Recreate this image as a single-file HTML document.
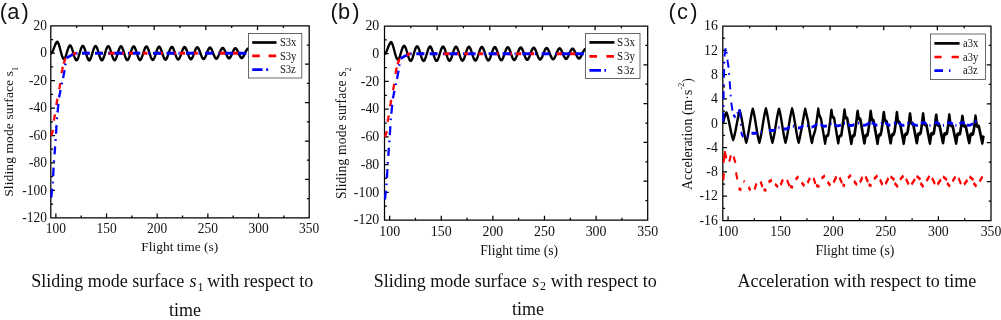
<!DOCTYPE html>
<html><head><meta charset="utf-8"><title>figure</title>
<style>
html,body{margin:0;padding:0;background:#fff;}
body{width:1001px;height:320px;overflow:hidden;font-family:"Liberation Serif",serif;}
svg{display:block;}
</style></head><body>
<svg width="1001" height="320" viewBox="0 0 1001 320">
<rect width="1001" height="320" fill="#fff"/>
<g style="filter:blur(0.3px)">
<path d="M50.8 25.8 H309.2 V217.8 H50.8 Z M55.87 217.8 v-4.2 M106.53 217.8 v-4.2 M157.2 217.8 v-4.2 M207.87 217.8 v-4.2 M258.53 217.8 v-4.2 M309.2 217.8 v-4.2 M81.2 217.8 v-2.3 M131.87 217.8 v-2.3 M182.53 217.8 v-2.3 M233.2 217.8 v-2.3 M283.87 217.8 v-2.3 M50.8 217.8 h4.2 M50.8 190.37 h4.2 M50.8 162.94 h4.2 M50.8 135.51 h4.2 M50.8 108.09 h4.2 M50.8 80.66 h4.2 M50.8 53.23 h4.2 M50.8 25.8 h4.2 M50.8 204.09 h2.3 M50.8 176.66 h2.3 M50.8 149.23 h2.3 M50.8 121.8 h2.3 M50.8 94.37 h2.3 M50.8 66.94 h2.3 M50.8 39.51 h2.3 M76.64 25.8 v2.3 M309.2 45 h-2.3 M102.48 25.8 v4.2 M309.2 64.2 h-4.2 M128.32 25.8 v2.3 M309.2 83.4 h-2.3 M154.16 25.8 v4.2 M309.2 102.6 h-4.2 M180 25.8 v2.3 M309.2 121.8 h-2.3 M205.84 25.8 v4.2 M309.2 141 h-4.2 M231.68 25.8 v2.3 M309.2 160.2 h-2.3 M257.52 25.8 v4.2 M309.2 179.4 h-4.2 M283.36 25.8 v2.3 M309.2 198.6 h-2.3" fill="none" stroke="#000" stroke-width="1.25"/>
<g font-family='"Liberation Serif", serif' font-size="13.45" fill="#111"><text transform="translate(55.87 232.9) scale(1 1.15)" text-anchor="middle">100</text><text transform="translate(106.53 232.9) scale(1 1.15)" text-anchor="middle">150</text><text transform="translate(157.2 232.9) scale(1 1.15)" text-anchor="middle">200</text><text transform="translate(207.87 232.9) scale(1 1.15)" text-anchor="middle">250</text><text transform="translate(258.53 232.9) scale(1 1.15)" text-anchor="middle">300</text><text transform="translate(309.2 232.9) scale(1 1.15)" text-anchor="middle">350</text><text transform="translate(46.9 222.05) scale(1 1.15)" text-anchor="end">-120</text><text transform="translate(46.9 194.62) scale(1 1.15)" text-anchor="end">-100</text><text transform="translate(46.9 167.19) scale(1 1.15)" text-anchor="end">-80</text><text transform="translate(46.9 139.76) scale(1 1.15)" text-anchor="end">-60</text><text transform="translate(46.9 112.34) scale(1 1.15)" text-anchor="end">-40</text><text transform="translate(46.9 84.91) scale(1 1.15)" text-anchor="end">-20</text><text transform="translate(46.9 57.48) scale(1 1.15)" text-anchor="end">0</text><text transform="translate(46.9 30.05) scale(1 1.15)" text-anchor="end">20</text></g>
<path transform="scale(0.8 1)" d="M63.5 53.23 L63.82 53.19 L64.13 53.07 L64.45 52.86 L64.77 52.58 L65.08 52.23 L65.4 51.81 L65.72 51.33 L66.03 50.8 L66.35 50.22 L66.67 49.6 L66.98 48.95 L67.3 48.28 L67.62 47.61 L67.93 46.93 L68.25 46.26 L68.57 45.61 L68.88 44.99 L69.2 44.41 L69.52 43.88 L69.83 43.4 L70.15 42.98 L70.47 42.63 L70.78 42.35 L71.1 42.15 L71.42 42.02 L71.73 41.91 L72.05 42.14 L72.37 42.47 L72.68 42.91 L73 43.43 L73.32 44.05 L73.63 44.75 L73.95 45.53 L74.27 46.37 L74.58 47.27 L74.9 48.21 L75.22 49.18 L75.53 50.16 L75.85 51.15 L76.17 52.13 L76.48 53.08 L76.8 54 L77.12 54.87 L77.43 55.67 L77.75 56.4 L78.07 57.05 L78.38 57.61 L78.7 58.07 L79.02 58.42 L79.33 58.66 L79.65 58.79 L79.97 58.81 L80.28 58.71 L80.6 58.51 L80.92 58.2 L81.23 57.79 L81.55 57.28 L81.87 56.7 L82.18 56.04 L82.5 55.31 L82.82 54.54 L83.13 53.73 L83.45 52.89 L83.77 52.05 L84.08 51.2 L84.4 50.38 L84.72 49.58 L85.03 48.83 L85.35 48.14 L85.67 47.51 L85.98 46.96 L86.3 46.49 L86.62 46.12 L86.93 45.86 L87.25 45.69 L87.57 45.64 L87.88 45.69 L88.2 45.86 L88.52 46.13 L88.83 46.5 L89.15 46.97 L89.47 47.53 L89.78 48.18 L90.1 48.89 L90.42 49.67 L90.73 50.5 L91.05 51.36 L91.37 52.25 L91.68 53.14 L92 54.03 L92.32 54.91 L92.63 55.75 L92.95 56.55 L93.27 57.29 L93.58 57.97 L93.9 58.56 L94.22 59.07 L94.53 59.49 L94.85 59.8 L95.17 60 L95.48 60.1 L95.8 60.09 L96.12 59.96 L96.43 59.73 L96.75 59.39 L97.07 58.95 L97.38 58.42 L97.7 57.81 L98.02 57.12 L98.33 56.37 L98.65 55.57 L98.97 54.73 L99.28 53.87 L99.6 52.99 L99.92 52.11 L100.23 51.25 L100.55 50.42 L100.87 49.63 L101.18 48.9 L101.5 48.24 L101.82 47.65 L102.13 47.14 L102.45 46.74 L102.77 46.43 L103.08 46.22 L103.4 46.13 L103.72 46.15 L104.03 46.27 L104.35 46.5 L104.67 46.84 L104.98 47.28 L105.3 47.8 L105.62 48.42 L105.93 49.1 L106.25 49.85 L106.57 50.65 L106.88 51.49 L107.2 52.36 L107.52 53.23 L107.83 54.11 L108.15 54.97 L108.47 55.81 L108.78 56.6 L109.1 57.34 L109.42 58.01 L109.73 58.61 L110.05 59.12 L110.37 59.54 L110.68 59.86 L111 60.08 L111.32 60.18 L111.63 60.18 L111.95 60.07 L112.27 59.85 L112.58 59.53 L112.9 59.11 L113.22 58.6 L113.53 58 L113.85 57.33 L114.17 56.6 L114.48 55.81 L114.8 54.98 L115.12 54.13 L115.43 53.26 L115.75 52.39 L116.07 51.53 L116.38 50.7 L116.7 49.92 L117.02 49.18 L117.33 48.5 L117.65 47.91 L117.97 47.39 L118.28 46.96 L118.6 46.64 L118.92 46.41 L119.23 46.3 L119.55 46.29 L119.87 46.39 L120.18 46.6 L120.5 46.91 L120.82 47.31 L121.13 47.82 L121.45 48.4 L121.77 49.06 L122.08 49.79 L122.4 50.56 L122.72 51.38 L123.03 52.23 L123.35 53.09 L123.67 53.96 L123.98 54.81 L124.3 55.64 L124.62 56.43 L124.93 57.16 L125.25 57.84 L125.57 58.44 L125.88 58.97 L126.2 59.4 L126.52 59.73 L126.83 59.96 L127.15 60.09 L127.47 60.11 L127.78 60.02 L128.1 59.83 L128.42 59.53 L128.73 59.14 L129.05 58.65 L129.37 58.08 L129.68 57.43 L130 56.71 L130.32 55.95 L130.63 55.14 L130.95 54.3 L131.27 53.44 L131.58 52.58 L131.9 51.74 L132.22 50.91 L132.53 50.12 L132.85 49.39 L133.17 48.71 L133.48 48.1 L133.8 47.58 L134.12 47.14 L134.43 46.8 L134.75 46.56 L135.07 46.42 L135.38 46.39 L135.7 46.47 L136.02 46.65 L136.33 46.93 L136.65 47.32 L136.97 47.79 L137.28 48.35 L137.6 48.99 L137.92 49.69 L138.23 50.45 L138.55 51.25 L138.87 52.08 L139.18 52.93 L139.5 53.78 L139.82 54.63 L140.13 55.45 L140.45 56.23 L140.77 56.97 L141.08 57.65 L141.4 58.26 L141.72 58.79 L142.03 59.23 L142.35 59.58 L142.67 59.83 L142.98 59.98 L143.3 60.02 L143.62 59.95 L143.93 59.78 L144.25 59.51 L144.57 59.14 L144.88 58.67 L145.2 58.13 L145.52 57.5 L145.83 56.81 L146.15 56.06 L146.47 55.27 L146.78 54.45 L147.1 53.61 L147.42 52.76 L147.73 51.92 L148.05 51.11 L148.37 50.32 L148.68 49.58 L149 48.9 L149.32 48.29 L149.63 47.76 L149.95 47.31 L150.27 46.95 L150.58 46.69 L150.9 46.54 L151.22 46.49 L151.53 46.54 L151.85 46.7 L152.17 46.96 L152.48 47.32 L152.8 47.77 L153.12 48.31 L153.43 48.92 L153.75 49.6 L154.07 50.34 L154.38 51.12 L154.7 51.93 L155.02 52.77 L155.33 53.61 L155.65 54.44 L155.97 55.25 L156.28 56.04 L156.6 56.77 L156.92 57.46 L157.23 58.07 L157.55 58.61 L157.87 59.07 L158.18 59.43 L158.5 59.69 L158.82 59.86 L159.13 59.92 L159.45 59.88 L159.77 59.73 L160.08 59.48 L160.4 59.13 L160.72 58.69 L161.03 58.17 L161.35 57.57 L161.67 56.9 L161.98 56.17 L162.3 55.4 L162.62 54.6 L162.93 53.77 L163.25 52.94 L163.57 52.11 L163.88 51.3 L164.2 50.52 L164.52 49.78 L164.83 49.1 L165.15 48.48 L165.47 47.94 L165.78 47.48 L166.1 47.11 L166.42 46.83 L166.73 46.66 L167.05 46.59 L167.37 46.62 L167.68 46.76 L168 47 L168.32 47.33 L168.63 47.76 L168.95 48.27 L169.27 48.86 L169.58 49.52 L169.9 50.23 L170.22 50.99 L170.53 51.79 L170.85 52.61 L171.17 53.44 L171.48 54.26 L171.8 55.07 L172.12 55.84 L172.43 56.58 L172.75 57.26 L173.07 57.88 L173.38 58.43 L173.7 58.9 L174.02 59.27 L174.33 59.55 L174.65 59.74 L174.97 59.82 L175.28 59.79 L175.6 59.67 L175.92 59.44 L176.23 59.12 L176.55 58.7 L176.87 58.2 L177.18 57.63 L177.5 56.98 L177.82 56.28 L178.13 55.52 L178.45 54.74 L178.77 53.93 L179.08 53.11 L179.4 52.29 L179.72 51.48 L180.03 50.71 L180.35 49.97 L180.67 49.29 L180.98 48.67 L181.3 48.12 L181.62 47.65 L181.93 47.26 L182.25 46.97 L182.57 46.78 L182.88 46.69 L183.2 46.71 L183.52 46.82 L183.83 47.03 L184.15 47.35 L184.47 47.75 L184.78 48.24 L185.1 48.8 L185.42 49.44 L185.73 50.13 L186.05 50.87 L186.37 51.65 L186.68 52.46 L187 53.27 L187.32 54.08 L187.63 54.88 L187.95 55.65 L188.27 56.39 L188.58 57.07 L188.9 57.69 L189.22 58.24 L189.53 58.71 L189.85 59.1 L190.17 59.39 L190.48 59.59 L190.8 59.69 L191.12 59.68 L191.43 59.58 L191.75 59.37 L192.07 59.07 L192.38 58.68 L192.7 58.21 L193.02 57.65 L193.33 57.03 L193.65 56.35 L193.97 55.62 L194.28 54.86 L194.6 54.07 L194.92 53.27 L195.23 52.47 L195.55 51.68 L195.87 50.92 L196.18 50.19 L196.5 49.51 L196.82 48.9 L197.13 48.35 L197.45 47.87 L197.77 47.49 L198.08 47.19 L198.4 46.99 L198.72 46.88 L199.03 46.87 L199.35 46.97 L199.67 47.16 L199.98 47.45 L200.3 47.82 L200.62 48.28 L200.93 48.82 L201.25 49.42 L201.57 50.09 L201.88 50.8 L202.2 51.55 L202.52 52.32 L202.83 53.11 L203.15 53.9 L203.47 54.68 L203.78 55.43 L204.1 56.15 L204.42 56.82 L204.73 57.43 L205.05 57.98 L205.37 58.45 L205.68 58.84 L206 59.14 L206.32 59.35 L206.63 59.47 L206.95 59.48 L207.27 59.4 L207.58 59.22 L207.9 58.95 L208.22 58.59 L208.53 58.14 L208.85 57.62 L209.17 57.03 L209.48 56.39 L209.8 55.69 L210.12 54.96 L210.43 54.2 L210.75 53.42 L211.07 52.65 L211.38 51.88 L211.7 51.14 L212.02 50.43 L212.33 49.76 L212.65 49.15 L212.97 48.61 L213.28 48.14 L213.6 47.74 L213.92 47.44 L214.23 47.22 L214.55 47.1 L214.87 47.08 L215.18 47.15 L215.5 47.31 L215.82 47.57 L216.13 47.92 L216.45 48.35 L216.77 48.85 L217.08 49.43 L217.4 50.06 L217.72 50.74 L218.03 51.46 L218.35 52.2 L218.67 52.96 L218.98 53.72 L219.3 54.48 L219.62 55.21 L219.93 55.91 L220.25 56.57 L220.57 57.18 L220.88 57.72 L221.2 58.19 L221.52 58.59 L221.83 58.9 L222.15 59.12 L222.47 59.24 L222.78 59.28 L223.1 59.22 L223.42 59.06 L223.73 58.82 L224.05 58.48 L224.37 58.07 L224.68 57.58 L225 57.02 L225.32 56.41 L225.63 55.74 L225.95 55.04 L226.27 54.31 L226.58 53.57 L226.9 52.82 L227.22 52.07 L227.53 51.35 L227.85 50.66 L228.17 50 L228.48 49.4 L228.8 48.86 L229.12 48.39 L229.43 48 L229.75 47.69 L230.07 47.46 L230.38 47.33 L230.7 47.28 L231.02 47.33 L231.33 47.48 L231.65 47.71 L231.97 48.03 L232.28 48.43 L232.6 48.9 L232.92 49.44 L233.23 50.04 L233.55 50.69 L233.87 51.38 L234.18 52.09 L234.5 52.82 L234.82 53.56 L235.13 54.29 L235.45 55 L235.77 55.69 L236.08 56.33 L236.4 56.93 L236.72 57.47 L237.03 57.94 L237.35 58.33 L237.67 58.65 L237.98 58.88 L238.3 59.02 L238.62 59.07 L238.93 59.03 L239.25 58.9 L239.57 58.68 L239.88 58.37 L240.2 57.99 L240.52 57.53 L240.83 57 L241.15 56.42 L241.47 55.79 L241.78 55.12 L242.1 54.42 L242.42 53.7 L242.73 52.98 L243.05 52.26 L243.37 51.55 L243.68 50.88 L244 50.24 L244.32 49.65 L244.63 49.12 L244.95 48.65 L245.27 48.25 L245.58 47.93 L245.9 47.7 L246.22 47.55 L246.53 47.49 L246.85 47.52 L247.17 47.65 L247.48 47.85 L247.8 48.14 L248.12 48.51 L248.43 48.96 L248.75 49.47 L249.07 50.03 L249.38 50.65 L249.7 51.31 L250.02 51.99 L250.33 52.7 L250.65 53.41 L250.97 54.11 L251.28 54.8 L251.6 55.47 L251.92 56.09 L252.23 56.68 L252.55 57.2 L252.87 57.67 L253.18 58.06 L253.5 58.37 L253.82 58.61 L254.13 58.76 L254.45 58.82 L254.77 58.8 L255.08 58.69 L255.4 58.49 L255.72 58.21 L256.03 57.86 L256.35 57.43 L256.67 56.94 L256.98 56.39 L257.3 55.8 L257.62 55.16 L257.93 54.5 L258.25 53.81 L258.57 53.13 L258.88 52.44 L259.2 51.77 L259.52 51.12 L259.83 50.5 L260.15 49.93 L260.47 49.42 L260.78 48.96 L261.1 48.57 L261.42 48.26 L261.73 48.02 L262.05 47.87 L262.37 47.8 L262.68 47.81 L263 47.91 L263.32 48.1 L263.63 48.36 L263.95 48.7 L264.27 49.1 L264.58 49.57 L264.9 50.1 L265.22 50.68 L265.53 51.29 L265.85 51.93 L266.17 52.59 L266.48 53.26 L266.8 53.93 L267.12 54.58 L267.43 55.21 L267.75 55.81 L268.07 56.37 L268.38 56.88 L268.7 57.33 L269.02 57.71 L269.33 58.02 L269.65 58.26 L269.97 58.42 L270.28 58.49 L270.6 58.49 L270.92 58.4 L271.23 58.23 L271.55 57.98 L271.87 57.66 L272.18 57.27 L272.5 56.82 L272.82 56.31 L273.13 55.76 L273.45 55.17 L273.77 54.55 L274.08 53.91 L274.4 53.26 L274.72 52.61 L275.03 51.98 L275.35 51.36 L275.67 50.78 L275.98 50.23 L276.3 49.74 L276.62 49.3 L276.93 48.92 L277.25 48.61 L277.57 48.37 L277.88 48.21 L278.2 48.13 L278.52 48.13 L278.83 48.21 L279.15 48.37 L279.47 48.6 L279.78 48.9 L280.1 49.27 L280.42 49.7 L280.73 50.19 L281.05 50.72 L281.37 51.29 L281.68 51.89 L282 52.51 L282.32 53.13 L282.63 53.76 L282.95 54.38 L283.27 54.98 L283.58 55.55 L283.9 56.08 L284.22 56.56 L284.53 56.99 L284.85 57.37 L285.17 57.67 L285.48 57.91 L285.8 58.07 L286.12 58.16 L286.43 58.17 L286.75 58.1 L287.07 57.95 L287.38 57.74 L287.7 57.45 L288.02 57.1 L288.33 56.68 L288.65 56.22 L288.97 55.71 L289.28 55.16 L289.6 54.58 L289.92 53.99 L290.23 53.38 L290.55 52.77 L290.87 52.17 L291.18 51.59 L291.5 51.04 L291.82 50.52 L292.13 50.05 L292.45 49.63 L292.77 49.26 L293.08 48.96 L293.4 48.72 L293.72 48.56 L294.03 48.47 L294.35 48.45 L294.67 48.51 L294.98 48.64 L295.3 48.85 L295.62 49.12 L295.93 49.45 L296.25 49.85 L296.57 50.29 L296.88 50.78 L297.2 51.31 L297.52 51.86 L297.83 52.44 L298.15 53.02 L298.47 53.61 L298.78 54.19 L299.1 54.75 L299.42 55.29 L299.73 55.79 L300.05 56.26 L300.37 56.67 L300.68 57.03 L301 57.33 L301.32 57.56 L301.63 57.72 L301.95 57.82 L302.27 57.84 L302.58 57.79 L302.9 57.66 L303.22 57.47 L303.53 57.22 L303.85 56.9 L304.17 56.53 L304.48 56.1 L304.8 55.63 L305.12 55.13 L305.43 54.6 L305.75 54.05 L306.07 53.48 L306.38 52.92 L306.7 52.36 L307.02 51.82 L307.33 51.3 L307.65 50.81 L307.97 50.36 L308.28 49.96 L308.6 49.61 L308.92 49.32 L309.23 49.09 L309.55 48.93 L309.87 48.83 L310.18 48.81 L310.5 48.85 L310.82 48.96 L311.13 49.14 L311.45 49.38 L311.77 49.68" fill="none" stroke="#000" stroke-width="2.9" stroke-linejoin="round"/>
<path transform="scale(0.8 1)" d="M64.06 135.6 L64.18 135.31 L64.3 135.03 L64.42 134.74 L64.54 134.45 L64.66 134.16 L64.77 133.88 L64.89 133.59 L65.01 133.3 L65.13 133.02 L65.25 132.73 L65.37 132.44 L65.49 132.15 L65.6 131.87 L65.72 131.58 L65.84 131.29 L65.96 131.01 L66.08 130.72 L66.2 130.43 L66.32 130.14 L66.38 130 M67.19 120.6 L67.26 120.3 L67.34 120.01 L67.41 119.71 L67.49 119.42 L67.56 119.12 L67.63 118.83 L67.71 118.53 L67.78 118.24 L67.86 117.94 L67.93 117.65 L68.01 117.35 L68.08 117.06 L68.15 116.76 L68.23 116.47 L68.3 116.17 L68.38 115.88 L68.45 115.58 L68.53 115.29 L68.6 114.99 L68.68 114.7 L68.75 114.4 M70.31 105 L70.39 104.7 L70.46 104.41 L70.53 104.11 L70.61 103.82 L70.68 103.52 L70.76 103.23 L70.83 102.93 L70.9 102.64 L70.98 102.34 L71.05 102.05 L71.12 101.75 L71.2 101.46 L71.27 101.16 L71.35 100.87 L71.42 100.57 L71.49 100.28 L71.57 99.98 L71.64 99.69 L71.72 99.39 L71.79 99.09 L71.86 98.8 L71.88 98.75 M73.88 89.4 L73.95 89.1 L74.03 88.81 L74.1 88.51 L74.18 88.22 L74.26 87.92 L74.33 87.63 L74.41 87.33 L74.48 87.04 L74.56 86.74 L74.64 86.45 L74.71 86.15 L74.79 85.86 L74.87 85.56 L74.94 85.27 L75.02 84.97 L75.09 84.68 L75.17 84.38 L75.25 84.08 L75.32 83.79 L75.4 83.49 L75.47 83.2 L75.5 83.1 M76.88 73.1 L76.95 72.8 L77.03 72.51 L77.11 72.21 L77.18 71.92 L77.26 71.62 L77.34 71.33 L77.42 71.03 L77.49 70.74 L77.57 70.44 L77.65 70.15 L77.73 69.85 L77.8 69.56 L77.88 69.26 L77.96 68.97 L78.04 68.67 L78.11 68.38 L78.19 68.08 L78.27 67.79 L78.35 67.49 L78.42 67.2 L78.5 66.9 M79.5 63.75 L79.63 63.47 L79.75 63.18 L79.88 62.9 L80 62.61 L80.13 62.33 L80.26 62.04 L80.38 61.76 L80.51 61.47 L80.63 61.19 L80.76 60.9 L80.89 60.62 L81.01 60.33 L81.14 60.05 L81.26 59.76 L81.39 59.48 L81.52 59.19 L81.64 58.91 L81.77 58.62 L81.89 58.34 L82 58.1 M89.88 54.7 L91.06 54.34 L92.25 53.98 L93.43 53.62 L94.62 53.3 L95.5 53.27 M107.5 53.2 L108.75 53.2 L110 53.2 L111.25 53.2 M123.75 53.2 L125 53.2 L126.25 53.2 L127.5 53.2 M135 53.2 L136.25 53.2 L137.5 53.2 L138.75 53.2 L140 53.2 L141.25 53.2 L142.5 53.2 L143.5 53.2 M150 53.2 L151.25 53.2 L152.5 53.2 L153.75 53.2 L155 53.2 M161.25 53.2 L162.5 53.2 L163.75 53.2 L165 53.2 L166.25 53.2 L166.5 53.2 M178.75 53.2 L180 53.2 L181.25 53.2 L182.5 53.2 L183.75 53.2 L184.38 53.2 M197.5 53.2 L198.75 53.2 L200 53.2 L201.25 53.2 L202.5 53.2 L203.5 53.2 M215 53.2 L216.25 53.2 L217.5 53.2 L218.75 53.2 L220 53.2 M225 53.2 L226.25 53.2 L227.5 53.2 L228.75 53.2 L230 53.2 L231.25 53.2 M240 53.2 L241.25 53.2 L242.5 53.2 L243.75 53.2 L245 53.2 L246.25 53.2 L247.12 53.2 M257.5 53.2 L258.75 53.2 L260 53.2 M274.38 53.2 L275.62 53.2 L276.88 53.2 L278.12 53.2 L279.38 53.2 L280.62 53.2 L281.88 53.2 M290 53.2 L291.25 53.2 L292.5 53.2 L293.75 53.2 L295 53.2 L296.25 53.2 L297.5 53.2 L297.75 53.2" fill="none" stroke="#ff0000" stroke-width="2.9" stroke-linejoin="round"/>
<path transform="scale(0.8 1)" d="M64.06 197.5 L64.1 197.2 L64.14 196.9 L64.17 196.6 L64.21 196.3 L64.25 196 L64.29 195.71 L64.32 195.41 L64.36 195.11 L64.4 194.81 L64.44 194.51 L64.47 194.21 L64.51 193.91 L64.55 193.61 L64.59 193.31 L64.62 193.01 L64.66 192.72 L64.7 192.42 L64.74 192.12 L64.77 191.82 L64.81 191.52 L64.85 191.22 L64.88 190.92 L64.92 190.62 L64.96 190.32 L65 190.02 L65.03 189.73 L65.07 189.43 L65.11 189.13 L65.15 188.83 L65.15 188.78 M65.83 183.35 L65.87 183.05 L65.91 182.75 L65.94 182.45 L65.96 182.15 L65.99 181.85 L66 181.65 M66.4 176.2 L66.42 175.9 L66.44 175.6 L66.47 175.3 L66.49 175 L66.51 174.7 L66.53 174.4 L66.56 174.1 L66.58 173.8 L66.6 173.5 L66.62 173.2 L66.64 172.9 L66.67 172.6 L66.69 172.3 L66.71 172 L66.73 171.7 L66.75 171.4 L66.78 171.1 L66.8 170.8 L66.82 170.5 L66.84 170.2 L66.86 169.9 L66.89 169.6 L66.91 169.3 L66.93 169 L66.95 168.7 L66.97 168.4 L67 168.1 L67.02 167.8 L67.04 167.55 M67.44 162.05 L67.46 161.75 L67.49 161.45 L67.51 161.15 L67.54 160.85 L67.57 160.55 L67.58 160.4 M68.15 154.37 L68.18 154.07 L68.2 153.77 L68.23 153.47 L68.26 153.17 L68.29 152.87 L68.32 152.57 L68.35 152.27 L68.37 151.97 L68.4 151.67 L68.43 151.37 L68.46 151.07 L68.49 150.77 L68.51 150.48 L68.54 150.18 L68.57 149.88 L68.6 149.58 L68.63 149.28 L68.65 148.98 L68.68 148.68 L68.71 148.38 L68.74 148.08 L68.77 147.78 L68.8 147.48 L68.82 147.18 L68.85 146.88 L68.88 146.58 L68.91 146.29 M69.42 140.85 L69.45 140.55 L69.48 140.25 L69.5 139.95 L69.53 139.65 L69.55 139.35 L69.56 139.15 M69.98 133.75 L70 133.45 L70.02 133.15 L70.05 132.85 L70.07 132.55 L70.09 132.25 L70.12 131.95 L70.14 131.65 L70.16 131.35 L70.18 131.05 L70.21 130.75 L70.23 130.45 L70.25 130.15 L70.28 129.85 L70.3 129.55 L70.32 129.25 L70.34 128.95 L70.37 128.65 L70.39 128.35 L70.41 128.05 L70.44 127.75 L70.46 127.45 L70.48 127.15 L70.51 126.85 L70.53 126.55 L70.55 126.25 L70.57 125.95 L70.6 125.65 L70.62 125.35 L70.64 125.05 L70.65 125 M71.1 119.05 L71.12 118.75 L71.16 118.45 L71.2 118.15 L71.24 117.85 L71.27 117.56 L71.3 117.36 M71.9 112.48 L71.94 112.18 L71.97 111.88 L72.01 111.58 L72.05 111.29 L72.08 110.99 L72.12 110.69 L72.16 110.39 L72.19 110.09 L72.23 109.79 L72.27 109.49 L72.31 109.19 L72.34 108.9 L72.38 108.6 L72.42 108.3 L72.45 108 L72.49 107.7 L72.53 107.4 L72.56 107.1 L72.6 106.81 L72.64 106.51 L72.67 106.21 L72.71 105.91 L72.75 105.61 L72.78 105.31 L72.82 105.01 L72.86 104.72 L72.9 104.42 L72.93 104.12 L72.97 103.82 L72.98 103.77 M73.75 97.5 L73.83 97.21 L73.91 96.91 L73.99 96.62 L74.06 96.32 L74.14 96.03 L74.22 95.74 L74.3 95.44 L74.38 95.15 L74.46 94.85 L74.53 94.56 L74.61 94.26 L74.69 93.97 L74.77 93.68 L74.85 93.38 L74.93 93.09 L75 92.79 L75.08 92.5 L75.16 92.21 L75.24 91.91 L75.32 91.62 L75.4 91.32 L75.48 91.03 L75.55 90.74 L75.63 90.44 L75.71 90.15 L75.75 90 M77.17 84.24 L77.24 83.94 L77.31 83.65 L77.39 83.35 L77.47 83.06 L77.56 82.76 L77.61 82.57 M78.88 78.1 L78.94 77.8 L79.01 77.51 L79.08 77.21 L79.15 76.91 L79.22 76.62 L79.29 76.32 L79.36 76.03 L79.42 75.73 L79.49 75.43 L79.56 75.14 L79.63 74.84 L79.7 74.54 L79.77 74.25 L79.84 73.95 L79.9 73.65 L79.97 73.36 L80.04 73.06 L80.11 72.77 L80.18 72.47 L80.25 72.17 L80.32 71.88 L80.38 71.58 L80.45 71.28 L80.52 70.99 L80.59 70.69 L80.66 70.4 L80.73 70.1 L80.75 70 M81.6 65.24 L81.65 64.95 L81.71 64.65 L81.76 64.35 L81.82 64.05 L81.88 63.76 L81.92 63.56 M83.49 58.3 L83.68 58.04 L83.87 57.77 L84.11 57.55 L84.44 57.4 L84.77 57.25 L85.09 57.1 L85.42 56.95 L85.75 56.8 L86.08 56.65 L86.41 56.5 L86.73 56.35 L87.06 56.2 L87.39 56.05 L87.72 55.91 L88.06 55.77 L88.39 55.63 L88.73 55.49 L89.06 55.35 L89.4 55.21 L89.73 55.07 L90.07 54.93 L90.4 54.79 L90.74 54.66 L91.09 54.54 L91.2 54.51 M95.37 53.34 L96.62 53.26 L96.88 53.24 M102.5 53.2 L103.75 53.2 L105 53.2 L106.25 53.2 L107.5 53.2 L108.75 53.2 L110 53.2 L111.25 53.2 L112.38 53.2 M118.75 53.2 L120 53.2 L121.25 53.2 L122.5 53.2 L123.75 53.2 L125 53.2 L126.25 53.2 L127.5 53.2 L128.75 53.2 M135.62 53.2 L136.88 53.2 L137 53.2 M143.25 53.2 L144.5 53.2 L145.75 53.2 L147 53.2 L148.25 53.2 L149.5 53.2 L150.75 53.2 L152 53.2 L153.12 53.2 M159.88 53.2 L161.12 53.2 L161.25 53.2 M166.25 53.2 L167.5 53.2 L168.75 53.2 L170 53.2 L171.25 53.2 L172.5 53.2 L173.75 53.2 L175 53.2 L175.38 53.2 M185.25 53.2 L186.5 53.2 L187.25 53.2 M191.25 53.2 L192.5 53.2 L193.75 53.2 L195 53.2 L196.25 53.2 L197.5 53.2 L198.75 53.2 L200 53.2 L201.25 53.2 M208.12 53.2 L209.38 53.2 L210.62 53.2 L211.88 53.2 L213.12 53.2 L214.38 53.2 L215.62 53.2 L216.88 53.2 L218.12 53.2 M223 53.2 L224.25 53.2 L224.5 53.2 M232.5 53.2 L233.75 53.2 L235 53.2 L236.25 53.2 L237.5 53.2 L238.75 53.2 L240 53.2 L241.25 53.2 L242.5 53.2 M248.12 53.2 L249.38 53.2 L249.5 53.2 M256.25 53.2 L257.5 53.2 L258.75 53.2 L260 53.2 L261.25 53.2 L262.5 53.2 L263.75 53.2 L265 53.2 L266.25 53.2 M273.12 53.2 L274.38 53.2 M281.25 53.2 L282.5 53.2 L283.75 53.2 L285 53.2 L286.25 53.2 L287.5 53.2 L288.75 53.2 L290 53.2 L291.25 53.2 M297.87 53.2 L299.12 53.2 L300.38 53.2 L301.62 53.2 L302.88 53.2 L304.12 53.2 L305.37 53.2 L306.62 53.2 L307.88 53.2 L308 53.2" fill="none" stroke="#0000ff" stroke-width="2.9" stroke-linejoin="round"/>
<rect x="248.4" y="33.5" width="53.4" height="44.5" fill="#fff" stroke="#444" stroke-width="0.8"/>
<path d="M252.2 42.5 H276.5" stroke="#000" stroke-width="2.7" fill="none"/>
<path d="M252.2 55.8 H276.5" stroke="#ff0000" stroke-width="2.7" fill="none" stroke-dasharray="7.6 8.8"/>
<path d="M252.2 69.6 H276.5" stroke="#0000ff" stroke-width="2.7" fill="none" stroke-dasharray="10.3 3.7 1.9 30"/>
<g font-family='"Liberation Serif", serif' font-size="10.6" fill="#111" opacity="0.99"><text transform="translate(279.9 46.2) scale(1 1.1)">S3x</text><text transform="translate(279.9 59.5) scale(1 1.1)">S3y</text><text transform="translate(279.9 73.3) scale(1 1.1)">S3z</text></g>
<path d="M384.5 26 H647.7 V220 H384.5 Z M389.66 220 v-4.2 M441.27 220 v-4.2 M492.88 220 v-4.2 M544.48 220 v-4.2 M596.09 220 v-4.2 M647.7 220 v-4.2 M415.46 220 v-2.3 M467.07 220 v-2.3 M518.68 220 v-2.3 M570.29 220 v-2.3 M621.9 220 v-2.3 M384.5 220 h4.2 M384.5 192.29 h4.2 M384.5 164.57 h4.2 M384.5 136.86 h4.2 M384.5 109.14 h4.2 M384.5 81.43 h4.2 M384.5 53.71 h4.2 M384.5 26 h4.2 M384.5 206.14 h2.3 M384.5 178.43 h2.3 M384.5 150.71 h2.3 M384.5 123 h2.3 M384.5 95.29 h2.3 M384.5 67.57 h2.3 M384.5 39.86 h2.3 M410.82 26 v2.3 M647.7 45.4 h-2.3 M437.14 26 v4.2 M647.7 64.8 h-4.2 M463.46 26 v2.3 M647.7 84.2 h-2.3 M489.78 26 v4.2 M647.7 103.6 h-4.2 M516.1 26 v2.3 M647.7 123 h-2.3 M542.42 26 v4.2 M647.7 142.4 h-4.2 M568.74 26 v2.3 M647.7 161.8 h-2.3 M595.06 26 v4.2 M647.7 181.2 h-4.2 M621.38 26 v2.3 M647.7 200.6 h-2.3" fill="none" stroke="#000" stroke-width="1.25"/>
<g font-family='"Liberation Serif", serif' font-size="13.9" fill="#111"><text transform="translate(389.66 235.6) scale(1 1.11)" text-anchor="middle">100</text><text transform="translate(441.27 235.6) scale(1 1.11)" text-anchor="middle">150</text><text transform="translate(492.88 235.6) scale(1 1.11)" text-anchor="middle">200</text><text transform="translate(544.48 235.6) scale(1 1.11)" text-anchor="middle">250</text><text transform="translate(596.09 235.6) scale(1 1.11)" text-anchor="middle">300</text><text transform="translate(647.7 235.6) scale(1 1.11)" text-anchor="middle">350</text><text transform="translate(379.3 224.25) scale(1 1.11)" text-anchor="end">-120</text><text transform="translate(379.3 196.54) scale(1 1.11)" text-anchor="end">-100</text><text transform="translate(379.3 168.82) scale(1 1.11)" text-anchor="end">-80</text><text transform="translate(379.3 141.11) scale(1 1.11)" text-anchor="end">-60</text><text transform="translate(379.3 113.39) scale(1 1.11)" text-anchor="end">-40</text><text transform="translate(379.3 85.68) scale(1 1.11)" text-anchor="end">-20</text><text transform="translate(379.3 57.96) scale(1 1.11)" text-anchor="end">0</text><text transform="translate(379.3 30.25) scale(1 1.11)" text-anchor="end">20</text></g>
<path transform="scale(0.8 1)" d="M480.62 53.71 L480.95 53.67 L481.27 53.55 L481.59 53.35 L481.92 53.06 L482.24 52.71 L482.56 52.29 L482.88 51.8 L483.21 51.26 L483.53 50.67 L483.85 50.05 L484.17 49.39 L484.5 48.72 L484.82 48.03 L485.14 47.35 L485.46 46.67 L485.79 46.02 L486.11 45.39 L486.43 44.81 L486.75 44.27 L487.08 43.78 L487.4 43.36 L487.72 43 L488.04 42.72 L488.37 42.52 L488.69 42.39 L489.01 42.28 L489.33 42.51 L489.66 42.85 L489.98 43.28 L490.3 43.82 L490.62 44.44 L490.95 45.15 L491.27 45.94 L491.59 46.79 L491.91 47.69 L492.24 48.64 L492.56 49.62 L492.88 50.62 L493.2 51.62 L493.53 52.61 L493.85 53.57 L494.17 54.5 L494.49 55.37 L494.82 56.18 L495.14 56.92 L495.46 57.58 L495.78 58.14 L496.11 58.6 L496.43 58.96 L496.75 59.2 L497.07 59.33 L497.4 59.35 L497.72 59.26 L498.04 59.05 L498.37 58.73 L498.69 58.32 L499.01 57.81 L499.33 57.22 L499.66 56.55 L499.98 55.82 L500.3 55.04 L500.62 54.22 L500.95 53.37 L501.27 52.52 L501.59 51.67 L501.91 50.83 L502.24 50.03 L502.56 49.27 L502.88 48.57 L503.2 47.93 L503.53 47.38 L503.85 46.91 L504.17 46.54 L504.49 46.27 L504.82 46.1 L505.14 46.05 L505.46 46.1 L505.78 46.27 L506.11 46.54 L506.43 46.92 L506.75 47.39 L507.07 47.96 L507.4 48.61 L507.72 49.33 L508.04 50.12 L508.36 50.95 L508.69 51.83 L509.01 52.72 L509.33 53.63 L509.65 54.53 L509.98 55.41 L510.3 56.26 L510.62 57.07 L510.94 57.82 L511.27 58.5 L511.59 59.1 L511.91 59.62 L512.23 60.04 L512.56 60.35 L512.88 60.56 L513.2 60.66 L513.52 60.64 L513.85 60.52 L514.17 60.28 L514.49 59.94 L514.82 59.5 L515.14 58.96 L515.46 58.34 L515.78 57.65 L516.11 56.89 L516.43 56.08 L516.75 55.23 L517.07 54.36 L517.4 53.47 L517.72 52.59 L518.04 51.72 L518.36 50.88 L518.69 50.08 L519.01 49.34 L519.33 48.67 L519.65 48.07 L519.98 47.57 L520.3 47.15 L520.62 46.84 L520.94 46.64 L521.27 46.54 L521.59 46.56 L521.91 46.68 L522.23 46.92 L522.56 47.26 L522.88 47.7 L523.2 48.23 L523.52 48.85 L523.85 49.54 L524.17 50.3 L524.49 51.11 L524.81 51.96 L525.14 52.83 L525.46 53.72 L525.78 54.61 L526.1 55.48 L526.43 56.32 L526.75 57.12 L527.07 57.87 L527.39 58.55 L527.72 59.15 L528.04 59.67 L528.36 60.09 L528.68 60.41 L529.01 60.63 L529.33 60.74 L529.65 60.74 L529.98 60.63 L530.3 60.41 L530.62 60.08 L530.94 59.66 L531.27 59.14 L531.59 58.54 L531.91 57.86 L532.23 57.12 L532.56 56.32 L532.88 55.49 L533.2 54.62 L533.52 53.74 L533.85 52.87 L534.17 52 L534.49 51.16 L534.81 50.37 L535.14 49.62 L535.46 48.94 L535.78 48.34 L536.1 47.81 L536.43 47.39 L536.75 47.06 L537.07 46.83 L537.39 46.71 L537.72 46.7 L538.04 46.8 L538.36 47.01 L538.68 47.33 L539.01 47.74 L539.33 48.24 L539.65 48.84 L539.97 49.5 L540.3 50.24 L540.62 51.02 L540.94 51.85 L541.26 52.71 L541.59 53.58 L541.91 54.45 L542.23 55.31 L542.55 56.15 L542.88 56.95 L543.2 57.69 L543.52 58.37 L543.84 58.98 L544.17 59.51 L544.49 59.95 L544.81 60.29 L545.13 60.52 L545.46 60.65 L545.78 60.67 L546.1 60.58 L546.42 60.38 L546.75 60.08 L547.07 59.68 L547.39 59.19 L547.72 58.61 L548.04 57.96 L548.36 57.24 L548.68 56.46 L549.01 55.64 L549.33 54.79 L549.65 53.93 L549.97 53.06 L550.3 52.21 L550.62 51.37 L550.94 50.58 L551.26 49.83 L551.59 49.15 L551.91 48.53 L552.23 48 L552.55 47.56 L552.88 47.22 L553.2 46.97 L553.52 46.83 L553.84 46.8 L554.17 46.88 L554.49 47.07 L554.81 47.35 L555.13 47.74 L555.46 48.22 L555.78 48.79 L556.1 49.43 L556.42 50.14 L556.75 50.91 L557.07 51.72 L557.39 52.55 L557.71 53.41 L558.04 54.27 L558.36 55.13 L558.68 55.95 L559 56.75 L559.33 57.49 L559.65 58.18 L559.97 58.8 L560.29 59.33 L560.62 59.78 L560.94 60.13 L561.26 60.39 L561.58 60.53 L561.91 60.58 L562.23 60.51 L562.55 60.34 L562.88 60.06 L563.2 59.69 L563.52 59.22 L563.84 58.66 L564.17 58.03 L564.49 57.33 L564.81 56.58 L565.13 55.78 L565.46 54.95 L565.78 54.1 L566.1 53.24 L566.42 52.4 L566.75 51.57 L567.07 50.78 L567.39 50.03 L567.71 49.34 L568.04 48.73 L568.36 48.19 L568.68 47.73 L569 47.37 L569.33 47.11 L569.65 46.95 L569.97 46.9 L570.29 46.96 L570.62 47.12 L570.94 47.38 L571.26 47.75 L571.58 48.2 L571.91 48.74 L572.23 49.36 L572.55 50.05 L572.87 50.79 L573.2 51.58 L573.52 52.41 L573.84 53.25 L574.16 54.1 L574.49 54.94 L574.81 55.76 L575.13 56.55 L575.45 57.3 L575.78 57.99 L576.1 58.61 L576.42 59.15 L576.74 59.61 L577.07 59.98 L577.39 60.25 L577.71 60.41 L578.03 60.48 L578.36 60.43 L578.68 60.28 L579 60.03 L579.33 59.68 L579.65 59.24 L579.97 58.71 L580.29 58.1 L580.62 57.42 L580.94 56.69 L581.26 55.91 L581.58 55.1 L581.91 54.26 L582.23 53.42 L582.55 52.58 L582.87 51.76 L583.2 50.97 L583.52 50.23 L583.84 49.54 L584.16 48.92 L584.49 48.37 L584.81 47.9 L585.13 47.53 L585.45 47.25 L585.78 47.08 L586.1 47 L586.42 47.04 L586.74 47.18 L587.07 47.42 L587.39 47.75 L587.71 48.19 L588.03 48.7 L588.36 49.3 L588.68 49.96 L589 50.69 L589.32 51.46 L589.65 52.26 L589.97 53.09 L590.29 53.92 L590.61 54.76 L590.94 55.57 L591.26 56.36 L591.58 57.1 L591.9 57.79 L592.23 58.42 L592.55 58.97 L592.87 59.44 L593.19 59.82 L593.52 60.11 L593.84 60.29 L594.16 60.37 L594.48 60.35 L594.81 60.22 L595.13 59.99 L595.45 59.67 L595.77 59.25 L596.1 58.74 L596.42 58.16 L596.74 57.51 L597.07 56.79 L597.39 56.03 L597.71 55.24 L598.03 54.42 L598.36 53.59 L598.68 52.76 L599 51.95 L599.32 51.17 L599.65 50.42 L599.97 49.73 L600.29 49.1 L600.61 48.55 L600.94 48.07 L601.26 47.69 L601.58 47.4 L601.9 47.2 L602.23 47.11 L602.55 47.12 L602.87 47.24 L603.19 47.46 L603.52 47.77 L603.84 48.18 L604.16 48.67 L604.48 49.24 L604.81 49.88 L605.13 50.59 L605.45 51.34 L605.77 52.12 L606.1 52.93 L606.42 53.76 L606.74 54.58 L607.06 55.38 L607.39 56.16 L607.71 56.9 L608.03 57.59 L608.35 58.22 L608.68 58.78 L609 59.26 L609.32 59.65 L609.64 59.94 L609.97 60.14 L610.29 60.24 L610.61 60.24 L610.93 60.13 L611.26 59.92 L611.58 59.62 L611.9 59.22 L612.23 58.74 L612.55 58.19 L612.87 57.56 L613.19 56.87 L613.52 56.13 L613.84 55.36 L614.16 54.56 L614.48 53.75 L614.81 52.95 L615.13 52.15 L615.45 51.38 L615.77 50.65 L616.1 49.96 L616.42 49.34 L616.74 48.78 L617.06 48.3 L617.39 47.91 L617.71 47.61 L618.03 47.41 L618.35 47.3 L618.68 47.29 L619 47.39 L619.32 47.58 L619.64 47.87 L619.97 48.25 L620.29 48.72 L620.61 49.26 L620.93 49.87 L621.26 50.54 L621.58 51.26 L621.9 52.02 L622.22 52.8 L622.55 53.59 L622.87 54.39 L623.19 55.18 L623.51 55.94 L623.84 56.66 L624.16 57.34 L624.48 57.96 L624.8 58.51 L625.13 58.99 L625.45 59.39 L625.77 59.69 L626.09 59.9 L626.42 60.02 L626.74 60.03 L627.06 59.95 L627.38 59.77 L627.71 59.49 L628.03 59.13 L628.35 58.68 L628.67 58.15 L629 57.56 L629.32 56.9 L629.64 56.2 L629.97 55.46 L630.29 54.69 L630.61 53.91 L630.93 53.13 L631.26 52.35 L631.58 51.6 L631.9 50.88 L632.22 50.21 L632.55 49.6 L632.87 49.05 L633.19 48.57 L633.51 48.17 L633.84 47.86 L634.16 47.65 L634.48 47.52 L634.8 47.5 L635.13 47.57 L635.45 47.74 L635.77 48 L636.09 48.35 L636.42 48.78 L636.74 49.29 L637.06 49.87 L637.38 50.51 L637.71 51.2 L638.03 51.92 L638.35 52.68 L638.67 53.44 L639 54.22 L639.32 54.98 L639.64 55.72 L639.96 56.43 L640.29 57.09 L640.61 57.7 L640.93 58.25 L641.25 58.73 L641.58 59.13 L641.9 59.44 L642.22 59.66 L642.54 59.79 L642.87 59.83 L643.19 59.76 L643.51 59.61 L643.83 59.36 L644.16 59.02 L644.48 58.61 L644.8 58.11 L645.12 57.55 L645.45 56.93 L645.77 56.26 L646.09 55.55 L646.42 54.81 L646.74 54.06 L647.06 53.3 L647.38 52.55 L647.71 51.82 L648.03 51.12 L648.35 50.46 L648.67 49.85 L649 49.3 L649.32 48.83 L649.64 48.43 L649.96 48.11 L650.29 47.89 L650.61 47.75 L650.93 47.71 L651.25 47.76 L651.58 47.9 L651.9 48.14 L652.22 48.46 L652.54 48.86 L652.87 49.34 L653.19 49.89 L653.51 50.49 L653.83 51.15 L654.16 51.84 L654.48 52.57 L654.8 53.3 L655.12 54.05 L655.45 54.79 L655.77 55.51 L656.09 56.2 L656.41 56.85 L656.74 57.45 L657.06 58 L657.38 58.47 L657.7 58.87 L658.03 59.19 L658.35 59.42 L658.67 59.56 L658.99 59.62 L659.32 59.57 L659.64 59.44 L659.96 59.22 L660.28 58.91 L660.61 58.52 L660.93 58.06 L661.25 57.53 L661.57 56.94 L661.9 56.3 L662.22 55.62 L662.54 54.91 L662.87 54.19 L663.19 53.46 L663.51 52.73 L663.83 52.02 L664.16 51.34 L664.48 50.69 L664.8 50.1 L665.12 49.56 L665.45 49.09 L665.77 48.69 L666.09 48.37 L666.41 48.13 L666.74 47.98 L667.06 47.92 L667.38 47.95 L667.7 48.07 L668.03 48.28 L668.35 48.58 L668.67 48.95 L668.99 49.4 L669.32 49.91 L669.64 50.49 L669.96 51.11 L670.28 51.77 L670.61 52.47 L670.93 53.18 L671.25 53.89 L671.57 54.61 L671.9 55.3 L672.22 55.98 L672.54 56.61 L672.86 57.2 L673.19 57.73 L673.51 58.2 L673.83 58.59 L674.15 58.91 L674.48 59.15 L674.8 59.3 L675.12 59.37 L675.44 59.34 L675.77 59.23 L676.09 59.03 L676.41 58.75 L676.73 58.39 L677.06 57.96 L677.38 57.47 L677.7 56.91 L678.03 56.31 L678.35 55.67 L678.67 55 L678.99 54.31 L679.32 53.61 L679.64 52.92 L679.96 52.24 L680.28 51.58 L680.61 50.96 L680.93 50.39 L681.25 49.86 L681.57 49.4 L681.9 49.01 L682.22 48.69 L682.54 48.45 L682.86 48.3 L683.19 48.23 L683.51 48.24 L683.83 48.34 L684.15 48.53 L684.48 48.79 L684.8 49.13 L685.12 49.55 L685.44 50.02 L685.77 50.56 L686.09 51.14 L686.41 51.76 L686.73 52.4 L687.06 53.07 L687.38 53.75 L687.7 54.42 L688.02 55.08 L688.35 55.72 L688.67 56.33 L688.99 56.89 L689.31 57.4 L689.64 57.85 L689.96 58.24 L690.28 58.56 L690.6 58.8 L690.93 58.96 L691.25 59.03 L691.57 59.03 L691.89 58.94 L692.22 58.77 L692.54 58.52 L692.86 58.19 L693.18 57.8 L693.51 57.34 L693.83 56.83 L694.15 56.27 L694.48 55.67 L694.8 55.05 L695.12 54.4 L695.44 53.75 L695.77 53.09 L696.09 52.45 L696.41 51.83 L696.73 51.24 L697.06 50.69 L697.38 50.19 L697.7 49.74 L698.02 49.36 L698.35 49.05 L698.67 48.81 L698.99 48.65 L699.31 48.56 L699.64 48.56 L699.96 48.64 L700.28 48.8 L700.6 49.03 L700.93 49.34 L701.25 49.72 L701.57 50.15 L701.89 50.64 L702.22 51.18 L702.54 51.76 L702.86 52.36 L703.18 52.98 L703.51 53.62 L703.83 54.25 L704.15 54.88 L704.47 55.48 L704.8 56.06 L705.12 56.59 L705.44 57.08 L705.76 57.52 L706.09 57.9 L706.41 58.2 L706.73 58.44 L707.05 58.61 L707.38 58.69 L707.7 58.7 L708.02 58.63 L708.34 58.49 L708.67 58.27 L708.99 57.98 L709.31 57.62 L709.63 57.21 L709.96 56.74 L710.28 56.22 L710.6 55.67 L710.92 55.08 L711.25 54.48 L711.57 53.87 L711.89 53.25 L712.22 52.65 L712.54 52.06 L712.86 51.5 L713.18 50.98 L713.51 50.5 L713.83 50.07 L714.15 49.7 L714.47 49.4 L714.8 49.16 L715.12 48.99 L715.44 48.9 L715.76 48.89 L716.09 48.95 L716.41 49.08 L716.73 49.29 L717.05 49.56 L717.38 49.9 L717.7 50.3 L718.02 50.75 L718.34 51.24 L718.67 51.77 L718.99 52.33 L719.31 52.91 L719.63 53.51 L719.96 54.1 L720.28 54.69 L720.6 55.25 L720.92 55.8 L721.25 56.31 L721.57 56.77 L721.89 57.19 L722.21 57.55 L722.54 57.85 L722.86 58.09 L723.18 58.25 L723.5 58.35 L723.83 58.37 L724.15 58.32 L724.47 58.2 L724.79 58 L725.12 57.74 L725.44 57.42 L725.76 57.05 L726.08 56.62 L726.41 56.14 L726.73 55.63 L727.05 55.1 L727.38 54.54 L727.7 53.97 L728.02 53.4 L728.34 52.84 L728.67 52.29 L728.99 51.76 L729.31 51.27 L729.63 50.82 L729.96 50.42 L730.28 50.06 L730.6 49.77 L730.92 49.54 L731.25 49.37 L731.57 49.27 L731.89 49.25 L732.21 49.29 L732.54 49.4 L732.86 49.58 L733.18 49.82 L733.5 50.12" fill="none" stroke="#000" stroke-width="2.9" stroke-linejoin="round"/>
<path transform="scale(0.8 1)" d="M481.2 136.94 L481.32 136.66 L481.44 136.37 L481.55 136.09 L481.67 135.8 L481.79 135.52 L481.91 135.23 L482.03 134.95 L482.15 134.66 L482.27 134.38 L482.39 134.09 L482.5 133.81 L482.62 133.52 L482.74 133.23 L482.86 132.95 L482.98 132.66 L483.1 132.38 L483.22 132.09 L483.34 131.81 L483.45 131.52 L483.55 131.29 M484.38 121.79 L484.46 121.49 L484.53 121.2 L484.61 120.9 L484.68 120.6 L484.76 120.31 L484.83 120.01 L484.91 119.72 L484.98 119.42 L485.06 119.12 L485.13 118.83 L485.21 118.53 L485.28 118.24 L485.36 117.94 L485.43 117.64 L485.51 117.35 L485.58 117.05 L485.66 116.76 L485.73 116.46 L485.81 116.16 L485.88 115.87 L485.96 115.57 L485.97 115.52 M487.56 106.03 L487.64 105.73 L487.71 105.43 L487.79 105.14 L487.86 104.84 L487.94 104.54 L488.01 104.25 L488.09 103.95 L488.16 103.66 L488.24 103.36 L488.31 103.06 L488.38 102.77 L488.46 102.47 L488.53 102.18 L488.61 101.88 L488.68 101.58 L488.76 101.29 L488.83 100.99 L488.91 100.7 L488.98 100.4 L489.06 100.1 L489.13 99.81 L489.16 99.71 M491.19 90.26 L491.27 89.97 L491.35 89.67 L491.42 89.38 L491.5 89.09 L491.57 88.79 L491.65 88.5 L491.73 88.21 L491.8 87.91 L491.88 87.62 L491.96 87.32 L492.03 87.03 L492.11 86.74 L492.19 86.44 L492.26 86.15 L492.34 85.86 L492.42 85.56 L492.49 85.27 L492.57 84.97 L492.64 84.68 L492.72 84.39 L492.8 84.09 L492.85 83.9 M494.25 73.79 L494.33 73.5 L494.4 73.21 L494.48 72.91 L494.56 72.62 L494.64 72.32 L494.71 72.03 L494.79 71.74 L494.87 71.44 L494.95 71.15 L495.02 70.86 L495.1 70.56 L495.18 70.27 L495.26 69.98 L495.33 69.68 L495.41 69.39 L495.49 69.09 L495.57 68.8 L495.65 68.51 L495.72 68.21 L495.8 67.92 L495.88 67.63 L495.9 67.53 M496.92 64.35 L497.05 64.06 L497.17 63.78 L497.3 63.5 L497.43 63.21 L497.55 62.93 L497.68 62.65 L497.81 62.36 L497.93 62.08 L498.06 61.8 L498.18 61.51 L498.31 61.23 L498.44 60.95 L498.56 60.67 L498.69 60.38 L498.82 60.1 L498.94 59.82 L499.07 59.53 L499.2 59.25 L499.32 58.97 L499.45 58.68 L499.47 58.64 M507.49 55.2 L508.67 54.85 L509.85 54.49 L511.02 54.14 L512.2 53.79 L513.22 53.75 M525.51 53.69 L526.76 53.69 L528.01 53.69 L529.14 53.69 M542.02 53.69 L543.27 53.69 L544.52 53.69 L545.77 53.69 M553.52 53.69 L554.77 53.69 L556.02 53.69 L557.27 53.69 L558.53 53.69 L559.78 53.69 L561.03 53.69 L562.03 53.69 M568.78 53.69 L570.03 53.69 L571.28 53.69 L572.53 53.69 L573.78 53.69 M580.28 53.69 L581.54 53.69 L582.79 53.69 L584.04 53.69 L585.29 53.69 L585.54 53.69 M598.04 53.69 L599.29 53.69 L600.54 53.69 L601.79 53.69 L603.04 53.69 L603.67 53.69 M617.18 53.69 L618.43 53.69 L619.68 53.69 L620.93 53.69 L622.18 53.69 L623.18 53.69 M635.06 53.69 L636.31 53.69 L637.56 53.69 L638.81 53.69 L639.94 53.69 M645.19 53.69 L646.44 53.69 L647.69 53.69 L648.94 53.69 L650.19 53.69 L651.44 53.69 M660.44 53.69 L661.7 53.69 L662.95 53.69 L664.2 53.69 L665.45 53.69 L666.7 53.69 L667.57 53.69 M678.33 53.69 L679.58 53.69 L680.7 53.69 M695.46 53.69 L696.71 53.69 L697.96 53.69 L699.21 53.69 L700.46 53.69 L701.71 53.69 L702.96 53.69 M711.34 53.69 L712.59 53.69 L713.84 53.69 L715.09 53.69 L716.34 53.69 L717.59 53.69 L718.85 53.69 L719.35 53.69" fill="none" stroke="#ff0000" stroke-width="2.9" stroke-linejoin="round"/>
<path transform="scale(0.8 1)" d="M481.2 199.49 L481.24 199.19 L481.27 198.89 L481.31 198.59 L481.35 198.29 L481.39 197.99 L481.42 197.69 L481.46 197.39 L481.5 197.1 L481.54 196.8 L481.57 196.5 L481.61 196.2 L481.65 195.9 L481.69 195.6 L481.73 195.3 L481.76 195 L481.8 194.7 L481.84 194.4 L481.88 194.1 L481.91 193.8 L481.95 193.51 L481.99 193.21 L482.03 192.91 L482.06 192.61 L482.1 192.31 L482.14 192.01 L482.18 191.71 L482.22 191.41 L482.25 191.11 L482.29 190.81 L482.31 190.66 M483 185.18 L483.04 184.88 L483.08 184.58 L483.11 184.28 L483.13 183.98 L483.16 183.68 L483.17 183.48 M483.58 177.99 L483.6 177.69 L483.62 177.39 L483.64 177.09 L483.67 176.79 L483.69 176.49 L483.71 176.19 L483.73 175.89 L483.76 175.59 L483.78 175.29 L483.8 174.99 L483.82 174.7 L483.84 174.4 L483.87 174.1 L483.89 173.8 L483.91 173.5 L483.93 173.2 L483.96 172.9 L483.98 172.6 L484 172.3 L484.02 172 L484.04 171.7 L484.07 171.4 L484.09 171.1 L484.11 170.8 L484.13 170.5 L484.16 170.2 L484.18 169.9 L484.2 169.6 L484.22 169.3 L484.23 169.2 M484.64 163.71 L484.66 163.41 L484.68 163.11 L484.7 162.81 L484.73 162.51 L484.76 162.21 L484.78 162.01 M485.36 155.92 L485.39 155.62 L485.41 155.32 L485.44 155.02 L485.47 154.72 L485.5 154.42 L485.53 154.12 L485.56 153.82 L485.59 153.52 L485.61 153.22 L485.64 152.92 L485.67 152.62 L485.7 152.32 L485.73 152.03 L485.76 151.73 L485.78 151.43 L485.81 151.13 L485.84 150.83 L485.87 150.53 L485.9 150.23 L485.93 149.93 L485.95 149.63 L485.98 149.33 L486.01 149.03 L486.04 148.73 L486.07 148.43 L486.1 148.13 L486.13 147.83 L486.13 147.73 M486.66 142.24 L486.68 141.94 L486.71 141.64 L486.74 141.34 L486.76 141.04 L486.79 140.74 L486.8 140.54 M487.23 135.05 L487.25 134.75 L487.27 134.45 L487.29 134.15 L487.32 133.85 L487.34 133.55 L487.36 133.25 L487.39 132.95 L487.41 132.65 L487.43 132.35 L487.46 132.05 L487.48 131.75 L487.5 131.45 L487.53 131.15 L487.55 130.85 L487.57 130.55 L487.59 130.25 L487.62 129.95 L487.64 129.66 L487.66 129.36 L487.69 129.06 L487.71 128.76 L487.73 128.46 L487.76 128.16 L487.78 127.86 L487.8 127.56 L487.83 127.26 L487.85 126.96 L487.87 126.66 L487.9 126.36 L487.9 126.26 M488.37 120.22 L488.39 119.92 L488.43 119.62 L488.47 119.32 L488.5 119.02 L488.54 118.72 L488.57 118.52 M489.18 113.59 L489.22 113.29 L489.25 112.99 L489.29 112.69 L489.33 112.4 L489.37 112.1 L489.4 111.8 L489.44 111.5 L489.48 111.2 L489.51 110.9 L489.55 110.6 L489.59 110.3 L489.63 110 L489.66 109.71 L489.7 109.41 L489.74 109.11 L489.78 108.81 L489.81 108.51 L489.85 108.21 L489.89 107.91 L489.92 107.61 L489.96 107.31 L490 107.02 L490.04 106.72 L490.07 106.42 L490.11 106.12 L490.15 105.82 L490.18 105.52 L490.22 105.22 L490.26 104.92 L490.28 104.77 M491.07 98.45 L491.14 98.15 L491.22 97.86 L491.3 97.57 L491.38 97.27 L491.46 96.98 L491.54 96.69 L491.62 96.39 L491.7 96.1 L491.78 95.81 L491.85 95.51 L491.93 95.22 L492.01 94.93 L492.09 94.63 L492.17 94.34 L492.25 94.05 L492.33 93.75 L492.41 93.46 L492.48 93.17 L492.56 92.87 L492.64 92.58 L492.72 92.29 L492.8 91.99 L492.88 91.7 L492.96 91.41 L493.04 91.11 L493.1 90.87 M494.55 85.04 L494.62 84.74 L494.7 84.45 L494.77 84.15 L494.86 83.86 L494.94 83.56 L495 83.36 M496.29 78.84 L496.35 78.55 L496.42 78.25 L496.49 77.96 L496.56 77.66 L496.63 77.37 L496.7 77.07 L496.77 76.77 L496.84 76.48 L496.91 76.18 L496.98 75.89 L497.04 75.59 L497.11 75.29 L497.18 75 L497.25 74.7 L497.32 74.41 L497.39 74.11 L497.46 73.82 L497.53 73.52 L497.6 73.22 L497.67 72.93 L497.74 72.63 L497.8 72.34 L497.87 72.04 L497.94 71.75 L498.01 71.45 L498.08 71.15 L498.15 70.86 L498.2 70.66 M499.06 65.85 L499.12 65.55 L499.17 65.25 L499.22 64.95 L499.28 64.66 L499.34 64.36 L499.38 64.16 M500.98 58.84 L501.18 58.57 L501.38 58.31 L501.62 58.08 L501.94 57.93 L502.27 57.78 L502.6 57.63 L502.93 57.48 L503.26 57.34 L503.59 57.19 L503.92 57.04 L504.25 56.89 L504.58 56.74 L504.91 56.59 L505.24 56.45 L505.57 56.31 L505.91 56.17 L506.24 56.03 L506.58 55.89 L506.91 55.75 L507.25 55.62 L507.58 55.48 L507.92 55.34 L508.25 55.2 L508.6 55.09 L508.83 55.01 M513.09 53.83 L514.37 53.74 L514.62 53.73 M520.38 53.69 L521.63 53.69 L522.88 53.69 L524.14 53.69 L525.39 53.69 L526.64 53.69 L527.89 53.69 L529.14 53.69 L530.39 53.69 L530.51 53.69 M537.02 53.69 L538.27 53.69 L539.52 53.69 L540.77 53.69 L542.02 53.69 L543.27 53.69 L544.52 53.69 L545.77 53.69 L547.02 53.69 M554.02 53.69 L555.27 53.69 L555.4 53.69 M561.78 53.69 L563.03 53.69 L564.28 53.69 L565.53 53.69 L566.78 53.69 L568.03 53.69 L569.28 53.69 L570.53 53.69 L571.78 53.69 L571.91 53.69 M578.91 53.69 L580.16 53.69 L580.28 53.69 M585.29 53.69 L586.54 53.69 L587.79 53.69 L589.04 53.69 L590.29 53.69 L591.54 53.69 L592.79 53.69 L594.04 53.69 L594.54 53.69 M604.67 53.69 L605.92 53.69 L606.67 53.69 M610.8 53.69 L612.05 53.69 L613.3 53.69 L614.55 53.69 L615.8 53.69 L617.05 53.69 L618.3 53.69 L619.55 53.69 L620.8 53.69 L620.93 53.69 M628.06 53.69 L629.31 53.69 L630.56 53.69 L631.81 53.69 L633.06 53.69 L634.31 53.69 L635.56 53.69 L636.81 53.69 L638.06 53.69 M643.19 53.69 L644.44 53.69 L644.56 53.69 M652.82 53.69 L654.07 53.69 L655.32 53.69 L656.57 53.69 L657.82 53.69 L659.07 53.69 L660.32 53.69 L661.57 53.69 L662.82 53.69 L662.95 53.69 M668.57 53.69 L669.82 53.69 L670.07 53.69 M677.08 53.69 L678.33 53.69 L679.58 53.69 L680.83 53.69 L682.08 53.69 L683.33 53.69 L684.58 53.69 L685.83 53.69 L687.08 53.69 M694.08 53.69 L695.34 53.69 L695.46 53.69 M702.46 53.69 L703.71 53.69 L704.96 53.69 L706.21 53.69 L707.47 53.69 L708.72 53.69 L709.97 53.69 L711.22 53.69 L712.47 53.69 L712.59 53.69 M719.47 53.69 L720.72 53.69 L721.97 53.69 L723.22 53.69 L724.47 53.69 L725.72 53.69 L726.97 53.69 L728.22 53.69 L729.47 53.69 L729.73 53.69" fill="none" stroke="#0000ff" stroke-width="2.9" stroke-linejoin="round"/>
<rect x="585.6" y="33.6" width="54.4" height="44.8" fill="#fff" stroke="#444" stroke-width="0.8"/>
<path d="M589.4 42.4 H614.4" stroke="#000" stroke-width="2.7" fill="none"/>
<path d="M589.4 56.4 H614.4" stroke="#ff0000" stroke-width="2.7" fill="none" stroke-dasharray="7.6 9.4"/>
<path d="M589.4 70.4 H614.4" stroke="#0000ff" stroke-width="2.7" fill="none" stroke-dasharray="11.6 3.4 1.6 30"/>
<g font-family='"Liberation Serif", serif' font-size="10.9" fill="#111" opacity="0.99"><text transform="translate(617 46.1) scale(1 1.1)">S<tspan dx="1">3x</tspan></text><text transform="translate(617 60.1) scale(1 1.1)">S<tspan dx="1">3y</tspan></text><text transform="translate(617 74.1) scale(1 1.1)">S<tspan dx="1">3z</tspan></text></g>
<path d="M722.8 26 H991 V220.5 H722.8 Z M728.06 220.5 v-4.2 M780.65 220.5 v-4.2 M833.24 220.5 v-4.2 M885.82 220.5 v-4.2 M938.41 220.5 v-4.2 M991 220.5 v-4.2 M754.35 220.5 v-2.3 M806.94 220.5 v-2.3 M859.53 220.5 v-2.3 M912.12 220.5 v-2.3 M964.71 220.5 v-2.3 M722.8 220.5 h4.2 M722.8 196.19 h4.2 M722.8 171.88 h4.2 M722.8 147.56 h4.2 M722.8 123.25 h4.2 M722.8 98.94 h4.2 M722.8 74.62 h4.2 M722.8 50.31 h4.2 M722.8 26 h4.2 M722.8 208.34 h2.3 M722.8 184.03 h2.3 M722.8 159.72 h2.3 M722.8 135.41 h2.3 M722.8 111.09 h2.3 M722.8 86.78 h2.3 M722.8 62.47 h2.3 M722.8 38.16 h2.3 M749.62 26 v2.3 M991 45.45 h-2.3 M776.44 26 v4.2 M991 64.9 h-4.2 M803.26 26 v2.3 M991 84.35 h-2.3 M830.08 26 v4.2 M991 103.8 h-4.2 M856.9 26 v2.3 M991 123.25 h-2.3 M883.72 26 v4.2 M991 142.7 h-4.2 M910.54 26 v2.3 M991 162.15 h-2.3 M937.36 26 v4.2 M991 181.6 h-4.2 M964.18 26 v2.3 M991 201.05 h-2.3" fill="none" stroke="#000" stroke-width="1.25"/>
<g font-family='"Liberation Serif", serif' font-size="13.8" fill="#111"><text transform="translate(728.06 235.6) scale(1 1.09)" text-anchor="middle">100</text><text transform="translate(780.65 235.6) scale(1 1.09)" text-anchor="middle">150</text><text transform="translate(833.24 235.6) scale(1 1.09)" text-anchor="middle">200</text><text transform="translate(885.82 235.6) scale(1 1.09)" text-anchor="middle">250</text><text transform="translate(938.41 235.6) scale(1 1.09)" text-anchor="middle">300</text><text transform="translate(991 235.6) scale(1 1.09)" text-anchor="middle">350</text><text transform="translate(717.8 224.75) scale(1 1.09)" text-anchor="end">-16</text><text transform="translate(717.8 200.44) scale(1 1.09)" text-anchor="end">-12</text><text transform="translate(717.8 176.12) scale(1 1.09)" text-anchor="end">-8</text><text transform="translate(717.8 151.81) scale(1 1.09)" text-anchor="end">-4</text><text transform="translate(717.8 127.5) scale(1 1.09)" text-anchor="end">0</text><text transform="translate(717.8 103.19) scale(1 1.09)" text-anchor="end">4</text><text transform="translate(717.8 78.88) scale(1 1.09)" text-anchor="end">8</text><text transform="translate(717.8 54.56) scale(1 1.09)" text-anchor="end">12</text><text transform="translate(717.8 30.25) scale(1 1.09)" text-anchor="end">16</text></g>
<path transform="scale(0.66 1)" d="M1095.61 123.08 L1095.91 122.14 L1096.21 121.22 L1096.52 120.32 L1096.82 119.45 L1097.12 118.61 L1097.42 117.82 L1097.73 117.07 L1098.03 116.37 L1098.33 115.72 L1098.64 115.14 L1098.94 114.62 L1099.24 114.17 L1099.55 113.79 L1099.85 113.48 L1100.15 113.24 L1100.45 113.09 L1100.76 113.01 L1101.06 113.23 L1101.36 113.74 L1101.67 114.3 L1101.97 114.9 L1102.27 115.55 L1102.58 116.25 L1102.88 117 L1103.18 117.78 L1103.48 118.61 L1103.79 119.47 L1104.09 120.36 L1104.39 121.28 L1104.7 122.23 L1105 123.19 L1105.3 124.18 L1105.61 125.17 L1105.91 126.17 L1106.21 127.17 L1106.52 128.17 L1106.82 129.16 L1107.12 130.14 L1107.42 131.1 L1107.73 132.04 L1108.03 132.95 L1108.33 133.84 L1108.64 134.69 L1108.94 135.5 L1109.24 136.28 L1109.55 137.01 L1109.85 137.7 L1110.15 138.34 L1110.45 138.93 L1110.76 139.49 L1111.06 139.27 L1111.36 138.74 L1111.67 138.15 L1111.97 137.52 L1112.27 136.83 L1112.58 136.09 L1112.88 135.3 L1113.18 134.47 L1113.48 133.59 L1113.79 132.68 L1114.09 131.72 L1114.39 130.74 L1114.7 129.73 L1115 128.69 L1115.3 127.64 L1115.61 126.57 L1115.91 125.5 L1116.21 124.42 L1116.52 123.34 L1116.82 122.27 L1117.12 121.21 L1117.42 120.16 L1117.73 119.14 L1118.03 118.14 L1118.33 117.18 L1118.64 116.25 L1118.94 115.35 L1119.24 114.5 L1119.55 113.69 L1119.85 112.93 L1120.15 112.22 L1120.45 111.56 L1120.76 110.95 L1121.06 111.5 L1121.36 112.11 L1121.67 112.77 L1121.97 113.49 L1122.27 114.27 L1122.58 115.1 L1122.88 115.99 L1123.18 116.92 L1123.48 117.89 L1123.79 118.91 L1124.09 119.97 L1124.39 121.06 L1124.7 122.18 L1125 123.32 L1125.3 124.48 L1125.61 125.65 L1125.91 126.83 L1126.21 128.01 L1126.52 129.19 L1126.82 130.36 L1127.12 131.52 L1127.42 132.66 L1127.73 133.77 L1128.03 134.85 L1128.33 135.9 L1128.64 136.91 L1128.94 137.87 L1129.24 138.79 L1129.55 139.66 L1129.85 140.48 L1130.15 141.25 L1130.45 141.94 L1130.76 142.25 L1131.06 141.61 L1131.36 140.91 L1131.67 140.15 L1131.97 139.33 L1132.27 138.45 L1132.58 137.52 L1132.88 136.54 L1133.18 135.51 L1133.48 134.43 L1133.79 133.32 L1134.09 132.17 L1134.39 130.99 L1134.7 129.78 L1135 128.55 L1135.3 127.31 L1135.61 126.06 L1135.91 124.81 L1136.21 123.56 L1136.52 122.32 L1136.82 121.09 L1137.12 119.88 L1137.42 118.7 L1137.73 117.55 L1138.03 116.43 L1138.33 115.35 L1138.64 114.32 L1138.94 113.34 L1139.24 112.4 L1139.55 111.42 L1139.85 110.63 L1140.15 109.89 L1140.45 109.21 L1140.76 109.21 L1141.06 109.89 L1141.36 110.63 L1141.67 111.42 L1141.97 112.28 L1142.27 113.19 L1142.58 114.15 L1142.88 115.16 L1143.18 116.22 L1143.48 117.33 L1143.79 118.47 L1144.09 119.64 L1144.39 120.84 L1144.7 122.06 L1145 123.3 L1145.3 124.55 L1145.61 125.81 L1145.91 127.06 L1146.21 128.31 L1146.52 129.55 L1146.82 130.76 L1147.12 131.96 L1147.42 133.12 L1147.73 134.25 L1148.03 135.35 L1148.33 136.39 L1148.64 137.4 L1148.94 138.35 L1149.24 139.24 L1149.55 140.08 L1149.85 140.86 L1150.15 141.58 L1150.45 142.24 L1150.76 141.92 L1151.06 141.23 L1151.36 140.48 L1151.67 139.67 L1151.97 138.8 L1152.27 137.88 L1152.58 136.9 L1152.88 135.88 L1153.18 134.8 L1153.48 133.69 L1153.79 132.54 L1154.09 131.36 L1154.39 130.16 L1154.7 128.93 L1155 127.69 L1155.3 126.44 L1155.61 125.18 L1155.91 123.92 L1156.21 122.68 L1156.52 121.45 L1156.82 120.23 L1157.12 119.05 L1157.42 117.89 L1157.73 116.77 L1158.03 115.69 L1158.33 114.65 L1158.64 113.66 L1158.94 112.72 L1159.24 111.84 L1159.55 111.02 L1159.85 110.25 L1160.15 109.54 L1160.45 108.9 L1160.76 109.54 L1161.06 110.25 L1161.36 111.02 L1161.67 111.84 L1161.97 112.72 L1162.27 113.66 L1162.58 114.65 L1162.88 115.69 L1163.18 116.77 L1163.48 117.89 L1163.79 119.05 L1164.09 120.23 L1164.39 121.45 L1164.7 122.68 L1165 123.92 L1165.3 125.18 L1165.61 126.44 L1165.91 127.69 L1166.21 128.93 L1166.52 130.16 L1166.82 131.36 L1167.12 132.54 L1167.42 133.69 L1167.73 134.8 L1168.03 135.88 L1168.33 136.9 L1168.64 137.88 L1168.94 138.8 L1169.24 139.67 L1169.55 140.48 L1169.85 141.23 L1170.15 141.92 L1170.45 142.24 L1170.76 141.58 L1171.06 140.86 L1171.36 140.08 L1171.67 139.24 L1171.97 138.35 L1172.27 137.4 L1172.58 136.39 L1172.88 135.35 L1173.18 134.25 L1173.48 133.12 L1173.79 131.96 L1174.09 130.76 L1174.39 129.55 L1174.7 128.31 L1175 127.06 L1175.3 125.81 L1175.61 124.55 L1175.91 123.3 L1176.21 122.06 L1176.52 120.84 L1176.82 119.64 L1177.12 118.47 L1177.42 117.33 L1177.73 116.22 L1178.03 115.16 L1178.33 114.15 L1178.64 113.19 L1178.94 112.28 L1179.24 111.42 L1179.55 110.63 L1179.85 109.89 L1180.15 109.21 L1180.45 109.21 L1180.76 109.89 L1181.06 110.63 L1181.36 111.42 L1181.67 112.28 L1181.97 113.19 L1182.27 114.15 L1182.58 115.16 L1182.88 116.22 L1183.18 117.33 L1183.48 118.47 L1183.79 119.64 L1184.09 120.84 L1184.39 122.06 L1184.7 123.3 L1185 124.55 L1185.3 125.81 L1185.61 127.06 L1185.91 128.31 L1186.21 129.55 L1186.52 130.76 L1186.82 131.96 L1187.12 133.12 L1187.42 134.25 L1187.73 135.35 L1188.03 136.39 L1188.33 137.4 L1188.64 138.35 L1188.94 139.24 L1189.24 140.08 L1189.55 140.86 L1189.85 141.58 L1190.15 142.24 L1190.45 141.92 L1190.76 141.23 L1191.06 140.48 L1191.36 139.67 L1191.67 138.8 L1191.97 137.88 L1192.27 136.9 L1192.58 135.88 L1192.88 134.8 L1193.18 133.69 L1193.48 132.54 L1193.79 131.36 L1194.09 130.16 L1194.39 128.93 L1194.7 127.69 L1195 126.44 L1195.3 125.18 L1195.61 123.92 L1195.91 122.68 L1196.21 121.45 L1196.52 120.23 L1196.82 119.05 L1197.12 117.89 L1197.42 116.77 L1197.73 115.69 L1198.03 114.65 L1198.33 113.66 L1198.64 112.72 L1198.94 111.84 L1199.24 111.02 L1199.55 110.25 L1199.85 109.54 L1200.15 108.9 L1200.45 109.54 L1200.76 110.25 L1201.06 111.02 L1201.36 111.84 L1201.67 112.72 L1201.97 113.66 L1202.27 114.65 L1202.58 115.69 L1202.88 116.77 L1203.18 117.89 L1203.48 119.05 L1203.79 120.23 L1204.09 121.45 L1204.39 122.68 L1204.7 123.92 L1205 125.18 L1205.3 126.44 L1205.61 127.69 L1205.91 128.93 L1206.21 130.16 L1206.52 131.36 L1206.82 132.54 L1207.12 133.69 L1207.42 134.8 L1207.73 135.88 L1208.03 136.9 L1208.33 137.88 L1208.64 138.8 L1208.94 139.67 L1209.24 140.47 L1209.55 141.21 L1209.85 141.89 L1210.15 142.22 L1210.45 141.61 L1210.76 140.88 L1211.06 140.08 L1211.36 139.21 L1211.67 138.29 L1211.97 137.31 L1212.27 136.34 L1212.58 135.36 L1212.88 134.36 L1213.18 133.33 L1213.48 132.28 L1213.79 131.22 L1214.09 130.15 L1214.39 129.07 L1214.7 128 L1215 126.94 L1215.3 125.86 L1215.61 124.64 L1215.91 123.42 L1216.21 122.22 L1216.52 121.03 L1216.82 119.86 L1217.12 118.72 L1217.42 117.6 L1217.73 116.51 L1218.03 115.44 L1218.33 114.35 L1218.64 113.29 L1218.94 112.26 L1219.24 111.26 L1219.55 110.29 L1219.85 109.36 L1220.15 109.32 L1220.45 110.2 L1220.76 111.14 L1221.06 112.13 L1221.36 113.18 L1221.67 113.95 L1221.97 114.72 L1222.27 115.51 L1222.58 116.33 L1222.88 117.16 L1223.18 118.01 L1223.48 118.87 L1223.79 119.74 L1224.09 120.6 L1224.39 121.74 L1224.7 122.97 L1225 124.2 L1225.3 125.44 L1225.61 126.67 L1225.91 127.89 L1226.21 129.1 L1226.52 130.3 L1226.82 131.48 L1227.12 132.65 L1227.42 133.79 L1227.73 134.91 L1228.03 136 L1228.33 137.07 L1228.64 138.11 L1228.94 139.12 L1229.24 140.11 L1229.55 141.07 L1229.85 142 L1230.15 142.41 L1230.45 142.11 L1230.76 141.1 L1231.06 140.05 L1231.36 138.97 L1231.67 137.85 L1231.97 136.82 L1232.27 136.22 L1232.58 135.61 L1232.88 135 L1233.18 134.38 L1233.48 133.76 L1233.79 133.14 L1234.09 132.52 L1234.39 131.91 L1234.7 131.31 L1235 130.73 L1235.3 129.61 L1235.61 128.28 L1235.91 126.95 L1236.21 125.63 L1236.52 124.31 L1236.82 123 L1237.12 121.7 L1237.42 120.42 L1237.73 119.14 L1238.03 117.76 L1238.33 116.29 L1238.64 114.83 L1238.94 113.37 L1239.24 111.93 L1239.55 110.49 L1239.85 109.05 L1240.15 110.29 L1240.45 111.56 L1240.76 112.86 L1241.06 114.19 L1241.36 115.15 L1241.67 115.59 L1241.97 116.03 L1242.27 116.47 L1242.58 116.91 L1242.88 117.35 L1243.18 117.78 L1243.48 118.21 L1243.79 118.63 L1244.09 119.24 L1244.39 120.48 L1244.7 121.71 L1245 122.95 L1245.3 124.19 L1245.61 125.42 L1245.91 126.65 L1246.21 127.87 L1246.52 129.09 L1246.82 130.31 L1247.12 131.51 L1247.42 132.72 L1247.73 133.91 L1248.03 135.11 L1248.33 136.29 L1248.64 137.48 L1248.94 138.66 L1249.24 139.84 L1249.55 141.02 L1249.85 142.16 L1250.15 143.23 L1250.45 142.12 L1250.76 140.87 L1251.06 139.61 L1251.36 138.33 L1251.67 137.05 L1251.97 136.51 L1252.27 136.3 L1252.58 136.1 L1252.88 135.91 L1253.18 135.74 L1253.48 135.57 L1253.79 135.42 L1254.09 135.29 L1254.39 135.16 L1254.7 135.03 L1255 134.58 L1255.3 133.1 L1255.61 131.63 L1255.91 130.16 L1256.21 128.69 L1256.52 127.22 L1256.82 125.75 L1257.12 124.28 L1257.42 122.81 L1257.73 121.33 L1258.03 119.53 L1258.33 117.73 L1258.64 115.94 L1258.94 114.14 L1259.24 112.35 L1259.55 110.55 L1259.85 110.4 L1260.15 111.88 L1260.45 113.35 L1260.76 114.83 L1261.06 116.31 L1261.36 116.61 L1261.67 116.8 L1261.97 116.99 L1262.27 117.18 L1262.58 117.37 L1262.88 117.56 L1263.18 117.75 L1263.48 117.94 L1263.79 118.13 L1264.09 119.11 L1264.39 120.35 L1264.7 121.6 L1265 122.84 L1265.3 124.08 L1265.61 125.33 L1265.91 126.57 L1266.21 127.81 L1266.52 129.05 L1266.82 130.29 L1267.12 131.53 L1267.42 132.77 L1267.73 134.01 L1268.03 135.24 L1268.33 136.48 L1268.64 137.72 L1268.94 138.95 L1269.24 140.19 L1269.55 141.42 L1269.85 142.65 L1270.15 142.78 L1270.45 141.51 L1270.76 140.24 L1271.06 138.96 L1271.36 137.69 L1271.67 136.64 L1271.97 136.49 L1272.27 136.33 L1272.58 136.17 L1272.88 136.02" fill="none" stroke="#000" stroke-width="3.6" stroke-linejoin="round"/>
<path transform="scale(0.66 1)" d="M1272.88 136.02 L1273.18 135.86 L1273.48 135.7 L1273.79 135.54 L1274.09 135.39 L1274.39 135.23 L1274.7 135.07 L1275 133.99 L1275.3 132.54 L1275.61 131.1 L1275.91 129.65 L1276.21 128.21 L1276.52 126.77 L1276.82 125.33 L1277.12 123.89 L1277.42 122.45 L1277.73 120.83 L1278.03 119.06 L1278.33 117.3 L1278.64 115.54 L1278.94 113.78 L1279.24 112.02 L1279.55 110.26 L1279.85 111.72 L1280.15 113.17 L1280.45 114.61 L1280.76 116.06 L1281.06 116.99 L1281.36 117.18 L1281.67 117.36 L1281.97 117.55 L1282.27 117.74 L1282.58 117.92 L1282.88 118.11 L1283.18 118.3 L1283.48 118.48 L1283.79 118.92 L1284.09 120.15 L1284.39 121.37 L1284.7 122.59 L1285 123.81 L1285.3 125.03 L1285.61 126.25 L1285.91 127.47 L1286.21 128.68 L1286.52 129.9 L1286.82 131.12 L1287.12 132.33 L1287.42 133.55 L1287.73 134.76 L1288.03 135.97 L1288.33 137.19 L1288.64 138.4 L1288.94 139.61 L1289.24 140.82 L1289.55 142.03 L1289.85 143.24 L1290.15 142.13 L1290.45 140.87 L1290.76 139.62 L1291.06 138.36 L1291.36 137.1 L1291.67 136.58 L1291.97 136.39 L1292.27 136.23 L1292.58 136.07 L1292.88 135.91 L1293.18 135.75 L1293.48 135.6 L1293.79 135.44 L1294.09 135.28 L1294.39 135.12 L1294.7 134.7 L1295 133.35 L1295.3 132.01 L1295.61 130.68 L1295.91 129.33 L1296.21 127.91 L1296.52 126.5 L1296.82 125.08 L1297.12 123.67 L1297.42 122.24 L1297.73 120.51 L1298.03 118.76 L1298.33 117.01 L1298.64 115.26 L1298.94 113.5 L1299.24 111.75 L1299.55 111.61 L1299.85 113.08 L1300.15 114.56 L1300.45 116.03 L1300.76 117.51 L1301.06 117.98 L1301.36 118.25 L1301.67 118.44 L1301.97 118.63 L1302.27 118.81 L1302.58 119 L1302.88 119.19 L1303.18 119.37 L1303.48 119.56 L1303.79 120.4 L1304.09 121.46 L1304.39 122.52 L1304.7 123.64 L1305 124.83 L1305.3 126.02 L1305.61 127.22 L1305.91 128.41 L1306.21 129.59 L1306.52 130.78 L1306.82 131.97 L1307.12 133.16 L1307.42 134.34 L1307.73 135.53 L1308.03 136.71 L1308.33 137.89 L1308.64 139.08 L1308.94 140.26 L1309.24 141.44 L1309.55 142.62 L1309.85 142.71 L1310.15 141.43 L1310.45 140.16 L1310.76 138.87 L1311.06 137.59 L1311.36 136.48 L1311.67 136.06 L1311.97 135.88 L1312.27 135.73 L1312.58 135.59 L1312.88 135.44 L1313.18 135.29 L1313.48 135.15 L1313.79 135 L1314.09 134.85 L1314.39 134.71 L1314.7 133.87 L1315 132.76 L1315.3 131.66 L1315.61 130.57 L1315.91 129.24 L1316.21 127.83 L1316.52 126.43 L1316.82 125.03 L1317.12 123.62 L1317.42 122.09 L1317.73 120.33 L1318.03 118.56 L1318.33 116.79 L1318.64 115.02 L1318.94 113.25 L1319.24 111.48 L1319.55 113 L1319.85 114.53 L1320.15 116.06 L1320.45 117.59 L1320.76 118.76 L1321.06 119.36 L1321.36 119.54 L1321.67 119.71 L1321.97 119.88 L1322.27 120.06 L1322.58 120.23 L1322.88 120.4 L1323.18 120.58 L1323.48 120.92 L1323.79 121.79 L1324.09 122.66 L1324.39 123.52 L1324.7 124.67 L1325 125.84 L1325.3 127 L1325.61 128.16 L1325.91 129.32 L1326.21 130.48 L1326.52 131.64 L1326.82 132.8 L1327.12 133.95 L1327.42 135.11 L1327.73 136.26 L1328.03 137.42 L1328.33 138.57 L1328.64 139.72 L1328.94 140.87 L1329.24 142.03 L1329.55 143.17 L1329.85 142.02 L1330.15 140.72 L1330.45 139.42 L1330.76 138.12 L1331.06 136.81 L1331.36 135.98 L1331.67 135.54 L1331.97 135.4 L1332.27 135.27 L1332.58 135.13 L1332.88 135 L1333.18 134.86 L1333.48 134.73 L1333.79 134.59 L1334.09 134.46 L1334.39 134.16 L1334.7 133.28 L1335 132.41 L1335.3 131.55 L1335.61 130.53 L1335.91 129.14 L1336.21 127.75 L1336.52 126.36 L1336.82 124.97 L1337.12 123.57 L1337.42 121.91 L1337.73 120.13 L1338.03 118.34 L1338.33 116.55 L1338.64 114.76 L1338.94 112.98 L1339.24 112.87 L1339.55 114.45 L1339.85 116.02 L1340.15 117.6 L1340.45 119.18 L1340.76 120.16 L1341.06 120.62 L1341.36 120.78 L1341.67 120.94 L1341.97 121.1 L1342.27 121.26 L1342.58 121.42 L1342.88 121.58 L1343.18 121.74 L1343.48 122.29 L1343.79 122.97 L1344.09 123.65 L1344.39 124.54 L1344.7 125.67 L1345 126.81 L1345.3 127.94 L1345.61 129.07 L1345.91 130.2 L1346.21 131.33 L1346.52 132.46 L1346.82 133.59 L1347.12 134.72 L1347.42 135.84 L1347.73 136.97 L1348.03 138.09 L1348.33 139.22 L1348.64 140.34 L1348.94 141.46 L1349.24 142.58 L1349.55 142.63 L1349.85 141.31 L1350.15 139.99 L1350.45 138.67 L1350.76 137.34 L1351.06 136.12 L1351.36 135.29 L1351.67 135.08 L1351.97 134.96 L1352.27 134.83 L1352.58 134.71 L1352.88 134.59 L1353.18 134.46 L1353.48 134.34 L1353.79 134.22 L1354.09 134.1 L1354.39 133.59 L1354.7 132.93 L1355 132.29 L1355.3 131.65 L1355.61 130.42 L1355.91 129.05 L1356.21 127.67 L1356.52 126.29 L1356.82 124.91 L1357.12 123.47 L1357.42 121.7 L1357.73 119.9 L1358.03 118.09 L1358.33 116.29 L1358.64 114.49 L1358.94 112.69 L1359.24 114.31 L1359.55 115.93 L1359.85 117.56 L1360.15 119.19 L1360.45 120.62 L1360.76 121.68 L1361.06 121.83 L1361.36 121.98 L1361.67 122.13 L1361.97 122.27 L1362.27 122.42 L1362.58 122.57 L1362.88 122.72 L1363.18 122.95 L1363.48 123.46 L1363.79 123.96 L1364.09 124.45 L1364.39 125.54 L1364.7 126.64 L1365 127.75 L1365.3 128.85 L1365.61 129.95 L1365.91 131.05 L1366.21 132.15 L1366.52 133.25 L1366.82 134.35 L1367.12 135.45 L1367.42 136.55 L1367.73 137.64 L1368.03 138.74 L1368.33 139.83 L1368.64 140.93 L1368.94 142.02 L1369.24 143.11 L1369.55 141.92 L1369.85 140.58 L1370.15 139.24 L1370.45 137.9 L1370.76 136.56 L1371.06 135.44 L1371.36 134.77 L1371.67 134.66 L1371.97 134.55 L1372.27 134.43 L1372.58 134.32 L1372.88 134.21 L1373.18 134.1 L1373.48 133.98 L1373.79 133.87 L1374.09 133.69 L1374.39 133.25 L1374.7 132.81 L1375 132.38 L1375.3 131.68 L1375.61 130.32 L1375.91 128.95 L1376.21 127.59 L1376.52 126.22 L1376.82 124.86 L1377.12 123.27 L1377.42 121.46 L1377.73 119.64 L1378.03 117.83 L1378.33 116.02 L1378.64 114.2 L1378.94 114.13 L1379.24 115.79 L1379.55 117.46 L1379.85 119.13 L1380.15 120.8 L1380.45 122.22 L1380.76 122.86 L1381.06 123 L1381.36 123.14 L1381.67 123.27 L1381.97 123.41 L1382.27 123.54 L1382.58 123.68 L1382.88 123.81 L1383.18 124.09 L1383.48 124.42 L1383.79 124.75 L1384.09 125.42 L1384.39 126.5 L1384.7 127.58 L1385 128.65 L1385.3 129.73 L1385.61 130.8 L1385.91 131.87 L1386.21 132.94 L1386.52 134.02 L1386.82 135.09 L1387.12 136.15 L1387.42 137.22 L1387.73 138.29 L1388.03 139.36 L1388.33 140.42 L1388.64 141.49 L1388.94 142.55 L1389.24 142.55 L1389.55 141.2 L1389.85 139.84 L1390.15 138.49 L1390.45 137.13 L1390.76 135.8 L1391.06 134.59 L1391.36 134.37 L1391.67 134.27 L1391.97 134.16 L1392.27 134.06 L1392.58 133.96 L1392.88 133.86 L1393.18 133.76 L1393.48 133.66 L1393.79 133.56 L1394.09 133.36 L1394.39 133.12 L1394.7 132.89 L1395 132.67 L1395.3 131.56 L1395.61 130.21 L1395.91 128.86 L1396.21 127.51 L1396.52 126.16 L1396.82 124.8 L1397.12 123.02 L1397.42 121.2 L1397.73 119.37 L1398.03 117.55 L1398.33 115.72 L1398.64 113.9 L1398.94 115.61 L1399.24 117.31 L1399.55 119.02 L1399.85 120.73 L1400.15 122.41 L1400.45 123.88 L1400.76 124 L1401.06 124.13 L1401.36 124.25 L1401.67 124.38 L1401.97 124.5 L1402.27 124.62 L1402.58 124.75 L1402.88 124.88 L1403.18 125.05 L1403.48 125.21 L1403.79 125.36 L1404.09 126.39 L1404.39 127.43 L1404.7 128.48 L1405 129.53 L1405.3 130.57 L1405.61 131.62 L1405.91 132.66 L1406.21 133.7 L1406.52 134.75 L1406.82 135.79 L1407.12 136.83 L1407.42 137.87 L1407.73 138.9 L1408.03 139.94 L1408.33 140.98 L1408.64 142.02 L1408.94 143.05 L1409.24 141.83 L1409.55 140.46 L1409.85 139.09 L1410.15 137.73 L1410.45 136.37 L1410.76 135 L1411.06 134.14 L1411.36 134.05 L1411.67 133.97 L1411.97 133.88 L1412.27 133.8 L1412.58 133.71 L1412.88 133.63 L1413.18 133.54 L1413.48 133.46 L1413.79 133.37 L1414.09 133.29 L1414.39 133.2 L1414.7 133.12 L1415 132.67 L1415.3 131.33 L1415.61 130 L1415.91 128.66 L1416.21 127.33 L1416.52 126 L1416.82 124.48 L1417.12 122.66 L1417.42 120.85 L1417.73 119.03 L1418.03 117.22 L1418.33 115.41 L1418.64 115.36 L1418.94 117.06 L1419.24 118.77 L1419.55 120.47 L1419.85 122.17 L1420.15 123.88 L1420.45 124.61 L1420.76 124.72 L1421.06 124.83 L1421.36 124.94 L1421.67 125.05 L1421.97 125.15 L1422.27 125.26 L1422.58 125.37 L1422.88 125.48 L1423.18 125.58 L1423.48 125.69 L1423.79 126.23 L1424.09 127.25 L1424.39 128.28 L1424.7 129.3 L1425 130.32 L1425.3 131.34 L1425.61 132.36 L1425.91 133.38 L1426.21 134.39 L1426.52 135.41 L1426.82 136.43 L1427.12 137.44 L1427.42 138.46 L1427.73 139.47 L1428.03 140.49 L1428.33 141.5 L1428.64 142.51 L1428.94 142.49 L1429.24 141.15 L1429.55 139.82 L1429.85 138.48 L1430.15 137.15 L1430.45 135.82 L1430.76 134.48 L1431.06 134.26 L1431.36 134.18 L1431.67 134.09 L1431.97 134.01 L1432.27 133.93 L1432.58 133.84 L1432.88 133.76 L1433.18 133.68 L1433.48 133.6 L1433.79 133.51 L1434.09 133.43 L1434.39 133.35 L1434.7 133.26 L1435 132.21 L1435.3 130.91 L1435.61 129.6 L1435.91 128.3 L1436.21 127 L1436.52 125.7 L1436.82 123.97 L1437.12 122.2 L1437.42 120.42 L1437.73 118.65 L1438.03 116.88 L1438.33 115.11 L1438.64 116.78 L1438.94 118.45 L1439.24 120.11 L1439.55 121.78 L1439.85 123.44 L1440.15 124.94 L1440.45 125.05 L1440.76 125.15 L1441.06 125.26 L1441.36 125.36 L1441.67 125.47 L1441.97 125.58 L1442.27 125.68 L1442.58 125.79 L1442.88 125.89 L1443.18 126 L1443.48 126.1 L1443.79 127.08 L1444.09 128.08 L1444.39 129.07 L1444.7 130.07 L1445 131.07 L1445.3 132.07 L1445.61 133.06 L1445.91 134.06 L1446.21 135.05 L1446.52 136.05 L1446.82 137.04 L1447.12 138.03 L1447.42 139.03 L1447.73 140.02 L1448.03 141.01 L1448.33 142 L1448.64 142.99 L1448.94 141.82 L1449.24 140.51 L1449.55 139.21 L1449.85 137.9 L1450.15 136.6 L1450.45 135.3 L1450.76 134.47 L1451.06 134.39 L1451.36 134.31 L1451.67 134.22 L1451.97 134.14 L1452.27 134.06 L1452.58 133.98 L1452.88 133.9 L1453.18 133.82 L1453.48 133.74 L1453.79 133.66 L1454.09 133.58 L1454.39 133.49 L1454.7 133.07 L1455 131.79 L1455.3 130.52 L1455.61 129.24 L1455.91 127.97 L1456.21 126.7 L1456.52 125.24 L1456.82 123.51 L1457.12 121.77 L1457.42 120.04 L1457.73 118.31 L1458.03 116.58 L1458.33 116.53 L1458.64 118.16 L1458.94 119.79 L1459.24 121.42 L1459.55 123.04 L1459.85 124.67 L1460.15 125.37 L1460.45 125.48 L1460.76 125.58 L1461.06 125.69 L1461.36 125.79 L1461.67 125.89 L1461.97 126 L1462.27 126.1 L1462.58 126.2 L1462.88 126.3 L1463.18 126.41 L1463.48 126.92 L1463.79 127.9 L1464.09 128.88 L1464.39 129.85 L1464.7 130.83 L1465 131.8 L1465.3 132.77 L1465.61 133.75 L1465.91 134.72 L1466.21 135.69 L1466.52 136.66 L1466.82 137.63 L1467.12 138.6 L1467.42 139.57 L1467.73 140.54 L1468.03 141.51 L1468.33 142.47 L1468.64 142.45 L1468.94 141.18 L1469.24 139.9 L1469.55 138.63 L1469.85 137.35 L1470.15 136.08 L1470.45 134.81 L1470.76 134.6 L1471.06 134.52 L1471.36 134.44 L1471.67 134.36 L1471.97 134.28 L1472.27 134.2 L1472.58 134.12 L1472.88 134.04 L1473.18 133.96 L1473.48 133.88 L1473.79 133.8 L1474.09 133.72 L1474.39 133.64 L1474.7 132.64 L1475 131.4 L1475.3 130.15 L1475.61 128.91 L1475.91 127.67 L1476.21 126.42 L1476.52 124.78 L1476.82 123.08 L1477.12 121.39 L1477.42 119.7 L1477.73 118 L1478.03 116.3 L1478.33 117.89 L1478.64 119.47 L1478.94 121.06 L1479.24 122.64 L1479.55 124.23 L1479.85 125.66 L1480.15 125.75 L1480.45 125.85 L1480.76 125.94 L1481.06 126.04 L1481.36 126.13 L1481.67 126.23 L1481.97 126.33 L1482.27 126.42 L1482.58 126.52 L1482.88 126.61 L1483.18 126.71 L1483.48 127.64 L1483.79 128.6 L1484.09 129.55 L1484.39 130.51 L1484.7 131.47 L1485 132.42 L1485.3 133.38 L1485.61 134.34 L1485.91 135.29 L1486.21 136.25 L1486.52 137.2 L1486.82 138.16 L1487.12 139.12 L1487.42 140.07 L1487.73 141.03 L1488.03 141.99 L1488.33 142.94 L1488.64 141.81 L1488.94 140.55 L1489.24 139.28 L1489.55 138.02 L1489.85 136.76 L1490.15 135.49" fill="none" stroke="#000" stroke-width="4" stroke-linejoin="round"/>
<path transform="scale(0.66 1)" d="M1096.82 173.2 L1095.91 180.3 M1096.21 162.6 L1098.33 152.2 L1100.76 158.3 M1104.92 161.6 L1107.42 155.4 M1111.52 156.6 L1114.39 162.9 M1115.15 172.3 L1117.12 179.3 M1118.94 188.5 L1123.48 190 M1126.52 181.2 L1128.18 181.9 M1134.09 187 L1137.12 190.5 M1143.18 189.5 L1146.21 183.5 M1152.27 181.5 L1155.3 187 M1156.82 189.5 L1161.36 190.5 M1164.39 182 L1169.7 180 M1174.24 184 L1178.79 187 M1182.58 185 L1186.36 179.5 M1192.42 180 L1196.21 186 M1196.97 186.2 L1201.52 187.5 M1205.3 179.5 L1209.85 176.5 M1214.39 182.5 L1218.94 186 M1223.48 183 L1227.27 178 M1232.58 178 L1235.61 184 M1236.36 185.5 L1241.67 186.5 M1244.7 178.5 L1250 175.5 M1253.79 182 L1258.33 185.5 M1262.88 182.5 L1267.42 176.5 M1271.97 177.5 L1275.76 183 M1276.52 184.5 L1280.3 186 M1284.85 178 L1289.39 175 M1293.94 181 L1298.48 185 M1303.03 182.5 L1306.82 177 M1311.36 176.5 L1315.15 182 M1315.91 184.5 L1320.45 186 M1324.24 179 L1329.55 175.5 M1333.33 179.5 L1337.12 185 M1341.67 184 L1346.21 178 M1349.24 176.5 L1355.3 180 M1355.3 183 L1360.61 187 M1363.64 179.5 L1368.94 175.8 M1372.73 178.8 L1376.82 184.5 M1381.06 184.5 L1386.36 179 M1388.64 176 L1394.7 179.5 M1394.7 183 L1399.24 187 M1403.79 181 L1408.33 176 M1412.12 178 L1416.67 184 M1420.45 184.5 L1425.76 179.5 M1428.79 176.5 L1434.85 180 M1434.85 183 L1439.39 186.5 M1443.18 181.5 L1447.73 176.5 M1452.27 178 L1456.06 184 M1460.61 184.5 L1465.91 180 M1468.94 176.5 L1475 180 M1475 183 L1479.55 186.5 M1484.09 181.5 L1488.64 176.5" fill="none" stroke="#ff0000" stroke-width="3.1" stroke-linejoin="round"/>
<path transform="scale(0.66 1)" d="M1095.77 121.9 L1095.79 121.4 L1095.82 120.9 L1095.84 120.4 L1095.86 119.9 L1095.88 119.4 L1095.9 118.9 L1095.93 118.4 L1095.95 117.9 L1095.97 117.4 L1095.99 116.9 L1096.02 116.4 L1096.04 115.9 L1096.06 115.4 L1096.08 114.9 L1096.11 114.4 L1096.13 113.9 L1096.15 113.4 L1096.17 112.9 L1096.19 112.5 M1096.27 106.75 L1096.28 106.25 L1096.28 105.75 L1096.29 105.25 L1096.29 105.1 M1096.36 99.4 L1096.37 98.9 L1096.38 98.4 L1096.39 97.9 L1096.4 97.4 L1096.41 96.9 L1096.42 96.4 L1096.43 95.9 L1096.44 95.4 L1096.45 94.9 L1096.46 94.4 L1096.47 93.9 L1096.48 93.4 L1096.5 92.9 L1096.51 92.4 L1096.52 91.9 L1096.53 91.4 L1096.53 91.25 M1096.65 85.85 L1096.66 85.35 L1096.67 84.85 L1096.69 84.35 L1096.7 84.15 M1096.94 77.75 L1096.96 77.25 L1096.98 76.75 L1097 76.25 L1097.02 75.75 L1097.03 75.25 L1097.05 74.75 L1097.07 74.25 L1097.09 73.75 L1097.11 73.25 L1097.13 72.75 L1097.15 72.25 L1097.16 71.75 L1097.18 71.25 L1097.2 70.75 L1097.22 70.25 L1097.24 69.75 L1097.26 69.25 L1097.27 69 M1097.46 63.65 L1097.48 63.15 L1097.5 62.65 L1097.52 62.15 L1097.53 61.95 M1097.73 56.5 L1097.83 56 L1097.93 55.51 L1098.03 55.01 L1098.13 54.51 L1098.23 54.02 L1098.33 53.52 L1098.43 53.02 L1098.54 52.52 L1098.64 52.03 L1098.74 51.53 L1098.84 51.03 L1098.94 50.54 L1099.04 50.04 L1099.14 49.54 L1099.24 49.05 L1099.34 48.55 L1099.39 48.3 M1100.75 51.92 L1100.93 52.41 L1101.08 52.9 L1101.16 53.4 L1101.19 53.6 M1102.12 59.6 L1102.23 60.1 L1102.34 60.59 L1102.45 61.09 L1102.56 61.59 L1102.68 62.08 L1102.79 62.58 L1102.9 63.08 L1103.01 63.58 L1103.12 64.07 L1103.23 64.57 L1103.34 65.07 L1103.45 65.56 L1103.56 66.06 L1103.67 66.56 L1103.78 67.05 L1103.9 67.55 L1103.94 67.75 M1104.59 73.15 L1104.65 73.65 L1104.71 74.15 L1104.77 74.65 L1104.79 74.85 M1105.49 81.25 L1105.55 81.75 L1105.61 82.25 L1105.68 82.75 L1105.74 83.25 L1105.8 83.75 L1105.86 84.25 L1105.93 84.75 L1105.99 85.25 L1106.05 85.75 L1106.12 86.25 L1106.18 86.75 L1106.24 87.25 L1106.31 87.75 L1106.37 88.25 L1106.43 88.75 L1106.5 89.25 L1106.52 89.4 M1107.04 94.75 L1107.09 95.25 L1107.14 95.75 L1107.19 96.25 L1107.21 96.45 M1107.88 102.5 L1108 102.99 L1108.12 103.49 L1108.24 103.98 L1108.36 104.48 L1108.48 104.97 L1108.6 105.46 L1108.72 105.96 L1108.84 106.45 L1108.96 106.95 L1109.08 107.44 L1109.2 107.93 L1109.32 108.43 L1109.44 108.92 L1109.56 109.41 L1109.68 109.91 L1109.8 110.4 L1109.85 110.6 M1111.37 114.61 L1111.61 115.08 L1112.07 115.48 L1112.54 115.89 L1113 116.29 L1113.47 116.69 L1113.93 117.1 L1114.39 117.5 M1118.94 111.4 L1120.3 110.4 L1121.06 110.8 L1122.27 118 M1116.67 113.6 L1117.88 112.6 M1122.35 124 L1122.5 125.6 M1122.88 131.9 L1124.24 134.6 L1126.21 137 M1131.82 136.5 L1133.33 136 M1138.64 133.2 L1139.39 133.21 L1140.15 133.22 L1140.91 133.22 L1141.67 133.23 L1142.42 133.24 L1143.18 133.25 L1143.94 133.25 L1144.7 133.26 L1145.45 133.27 L1146.21 133.28 L1146.97 133.28 L1147.58 133.29 M1152.88 132.6 L1153.64 132.47 L1154.39 132.35 L1154.55 132.33 M1165.15 130.48 L1165.91 130.46 L1166.67 130.46 L1167.42 130.48 L1168.18 130.5 L1168.94 130.51 L1169.7 130.49 L1170.45 130.49 L1171.21 130.45 L1171.97 130.35 L1172.73 130.19 L1173.48 129.97 L1174.24 129.68 L1174.85 129.42 M1179.39 127.73 L1180.15 127.61 L1180.91 127.57 L1181.06 127.57 M1187.12 128.78 L1187.88 128.92 L1188.64 129.01 L1189.39 129.05 L1190.15 129.02 L1190.91 128.92 L1191.67 128.79 L1192.42 128.6 L1193.18 128.36 L1193.94 128.09 L1194.7 127.78 L1195.45 127.47 L1196.21 127.16 L1196.82 126.93 M1201.36 126.19 L1202.12 126.28 L1202.88 126.43 L1203.03 126.47 M1209.09 127.95 L1209.85 127.96 L1210.61 127.91 L1211.36 127.8 L1212.12 127.62 L1212.88 127.39 L1213.64 127.12 L1214.39 126.83 L1215.15 126.52 L1215.91 126.21 L1216.67 125.92 L1217.27 125.71 M1222.58 125.42 L1223.33 125.6 L1224.09 125.82 L1224.24 125.87 M1229.55 127.02 L1230.3 126.98 L1231.06 126.88 L1231.82 126.72 L1232.58 126.5 L1233.33 126.24 L1234.09 125.96 L1234.85 125.66 L1235.61 125.35 L1236.36 125.06 L1237.12 124.81 L1237.88 124.59 L1238.48 124.46 M1243.18 124.75 L1243.94 124.98 L1244.7 125.22 L1245.45 125.47 L1246.21 125.7 L1246.97 125.9 L1247.73 126.06 L1248.48 126.17 L1249.24 126.22 L1250 126.21 L1250.76 126.12 L1251.52 125.98 L1252.27 125.8 L1252.88 125.61 M1258.18 123.87 L1258.94 123.76 L1259.7 123.71 L1259.85 123.71 M1264.39 124.69 L1265.15 124.95 L1265.91 125.21 L1266.67 125.43 L1267.42 125.62 L1268.18 125.76 L1268.94 125.84 L1269.7 125.85 L1270.45 125.8 L1271.21 125.68 L1271.97 125.51 L1272.73 125.29 L1273.48 125.03 L1274.09 124.81 M1278.64 123.45 L1279.39 123.39 L1280.15 123.4 L1280.3 123.41 M1284.85 124.57 L1285.61 124.83 L1286.36 125.06 L1287.12 125.26 L1287.88 125.41 L1288.64 125.5 L1289.39 125.53 L1290.15 125.49 L1290.91 125.39 L1291.67 125.23 L1292.42 125.02 L1293.18 124.77 L1293.94 124.5 L1294.55 124.27 M1299.85 123.1 L1300.61 123.17 L1301.36 123.29 L1301.52 123.32 M1307.58 125.13 L1308.33 125.24 L1309.09 125.29 L1309.85 125.27 L1310.61 125.18 L1311.36 125.03 L1312.12 124.83 L1312.88 124.58 L1313.64 124.3 L1314.39 124.01 L1315.15 123.72 L1315.91 123.44 L1316.67 123.2 L1317.42 123.01 L1318.03 122.89 M1320.45 122.88 L1321.21 123.02 L1321.97 123.21 L1322.73 123.45 L1323.48 123.73 L1324.24 124.01 L1325 124.3 L1325.76 124.58 L1326.52 124.82 L1327.27 125.02 L1328.03 125.15 L1328.79 125.23 L1329.39 125.23 M1334.7 123.78 L1335.45 123.49 L1336.21 123.23 L1336.36 123.18 M1340.91 122.93 L1341.67 123.12 L1342.42 123.37 L1343.18 123.65 L1343.94 123.95 L1344.7 124.26 L1345.45 124.55 L1346.21 124.82 L1346.97 125.03 L1347.73 125.19 L1348.48 125.28 L1349.09 125.3 M1354.55 123.76 L1355.3 123.46 L1356.06 123.19 L1356.82 122.96 L1357.42 122.82 M1361.36 123.03 L1362.12 123.28 L1362.88 123.57 L1363.64 123.89 L1364.39 124.21 L1365.15 124.52 L1365.91 124.8 L1366.67 125.04 L1367.42 125.21 L1368.18 125.32 L1368.94 125.35 L1369.7 125.3 L1370.3 125.21 M1375 123.51 L1375.76 123.22 L1376.52 122.98 L1377.12 122.83 M1381.06 122.98 L1381.82 123.22 L1382.58 123.51 L1383.33 123.82 L1384.09 124.15 L1384.85 124.46 L1385.61 124.75 L1386.36 124.99 L1387.12 125.18 L1387.88 125.3 L1388.64 125.35 L1389.39 125.32 L1390.15 125.21 L1390.76 125.08 M1395.45 123.28 L1396.21 123.03 L1396.97 122.83 L1397.73 122.71 L1398.48 122.65 L1399.24 122.67 L1400 122.77 L1400.76 122.94 L1401.52 123.17 L1402.27 123.45 L1403.03 123.76 L1403.64 124.02 M1408.18 125.34 L1408.94 125.34 L1409.7 125.26 L1409.85 125.24 M1415.91 123.07 L1416.67 122.87 L1417.42 122.73 L1418.18 122.66 L1418.94 122.66 L1419.7 122.75 L1420.45 122.9 L1421.21 123.12 L1421.97 123.39 L1422.73 123.7 L1423.48 124.02 L1424.09 124.27 M1428.64 125.35 L1429.39 125.28 L1430.15 125.15 L1430.3 125.11 M1434.85 123.39 L1435.61 123.12 L1436.36 122.9 L1437.12 122.75 L1437.88 122.66 L1438.64 122.66 L1439.39 122.73 L1440.15 122.87 L1440.91 123.07 L1441.67 123.33 L1442.42 123.63 L1443.18 123.95 L1443.79 124.21 M1447.58 125.32 L1448.33 125.35 L1449.09 125.3 L1449.24 125.28 M1453.79 123.76 L1454.55 123.45 L1455.3 123.17 L1456.06 122.94 L1456.82 122.77 L1457.58 122.67 L1458.33 122.65 L1459.09 122.71 L1459.85 122.83 L1460.61 123.03 L1461.36 123.28 L1461.97 123.51 M1465.15 124.8 L1465.91 125.04 L1466.67 125.21 L1467.42 125.32 L1468.18 125.35 L1468.94 125.3 L1469.7 125.18 L1470.45 124.99 L1471.21 124.75 L1471.97 124.46 L1472.73 124.15 L1473.48 123.82 L1474.09 123.57 M1476.97 122.73 L1479.39 120.6" fill="none" stroke="#0000ff" stroke-width="2.9" stroke-linejoin="round"/>
<rect x="930.6" y="34" width="54.8" height="45.4" fill="#fff" stroke="#444" stroke-width="0.8"/>
<path d="M934.4 43.4 H959.6" stroke="#000" stroke-width="2.7" fill="none"/>
<path d="M934.4 57 H959.6" stroke="#ff0000" stroke-width="2.7" fill="none" stroke-dasharray="7.2 10"/>
<path d="M934.4 70.6 H959.6" stroke="#0000ff" stroke-width="2.7" fill="none" stroke-dasharray="8.6 6 1.4 30"/>
<g font-family='"Liberation Serif", serif' font-size="10.6" fill="#111" opacity="0.99"><text transform="translate(963 47.1) scale(1 1.1)">a3x</text><text transform="translate(963 60.7) scale(1 1.1)">a3y</text><text transform="translate(963 74.3) scale(1 1.1)">a3z</text></g>
<text x="-0.3 7.2 21.5" y="19" font-family='"Liberation Sans", sans-serif' font-size="21.8" fill="#111">(a)</text>
<text x="330.4 337.9 352.2" y="19" font-family='"Liberation Sans", sans-serif' font-size="21.8" fill="#111">(b)</text>
<text x="668.4 677.1 690.2" y="19" font-family='"Liberation Sans", sans-serif' font-size="21.8" fill="#111">(c)</text>
<text x="179.8" y="250.8" text-anchor="middle" font-family='"Liberation Serif", serif' font-size="13.45" fill="#111">Flight time (s)</text>
<text x="519.2" y="255.3" text-anchor="middle" font-family='"Liberation Serif", serif' font-size="13.6" fill="#111">Flight time (s)</text>
<text x="855" y="254.6" text-anchor="middle" font-family='"Liberation Serif", serif' font-size="13.8" fill="#111">Flight time (s)</text>
<text transform="translate(13.3 196.8) rotate(-90)" font-family='"Liberation Serif", serif' font-size="13.45" letter-spacing="0.14" fill="#111">Sliding mode surface s<tspan font-size="7.8" dy="4.6">1</tspan></text>
<text transform="translate(346.2 199) rotate(-90)" font-family='"Liberation Serif", serif' font-size="13.6" letter-spacing="0.165" fill="#111">Sliding mode surface s<tspan font-size="7.8" dy="4.6">2</tspan></text>
<text transform="translate(692.1 190) rotate(-90)" font-family='"Liberation Serif", serif' font-size="13.8" letter-spacing="0.075" fill="#111">Acceleration (m·s<tspan font-size="8" dy="-8">-2</tspan><tspan dy="8">)</tspan></text>
<text x="31.2" y="286.8" font-family='"Liberation Serif", serif' font-size="18" fill="#111">Sliding mode surface <tspan font-style="italic" dx="0.9">s</tspan><tspan font-size="12" dy="3.8" dx="1">1</tspan><tspan dy="-3.8" dx="-0.9"> with respect to</tspan></text>
<text x="169" y="315.7" font-family='"Liberation Serif", serif' font-size="18" fill="#111">time</text>
<text x="373.7" y="286.5" font-family='"Liberation Serif", serif' font-size="18" fill="#111">Sliding mode surface <tspan font-style="italic" dx="1.2">s</tspan><tspan font-size="12" dy="3.8" dx="0.6">2</tspan><tspan dy="-3.8" dx="0.2"> with respect to</tspan></text>
<text x="511.9" y="315.2" font-family='"Liberation Serif", serif' font-size="18" fill="#111">time</text>
<text x="737.4" y="286.5" font-family='"Liberation Serif", serif' font-size="18" fill="#111">Acceleration with respect to time</text>
</g>
</svg>
</body></html>
